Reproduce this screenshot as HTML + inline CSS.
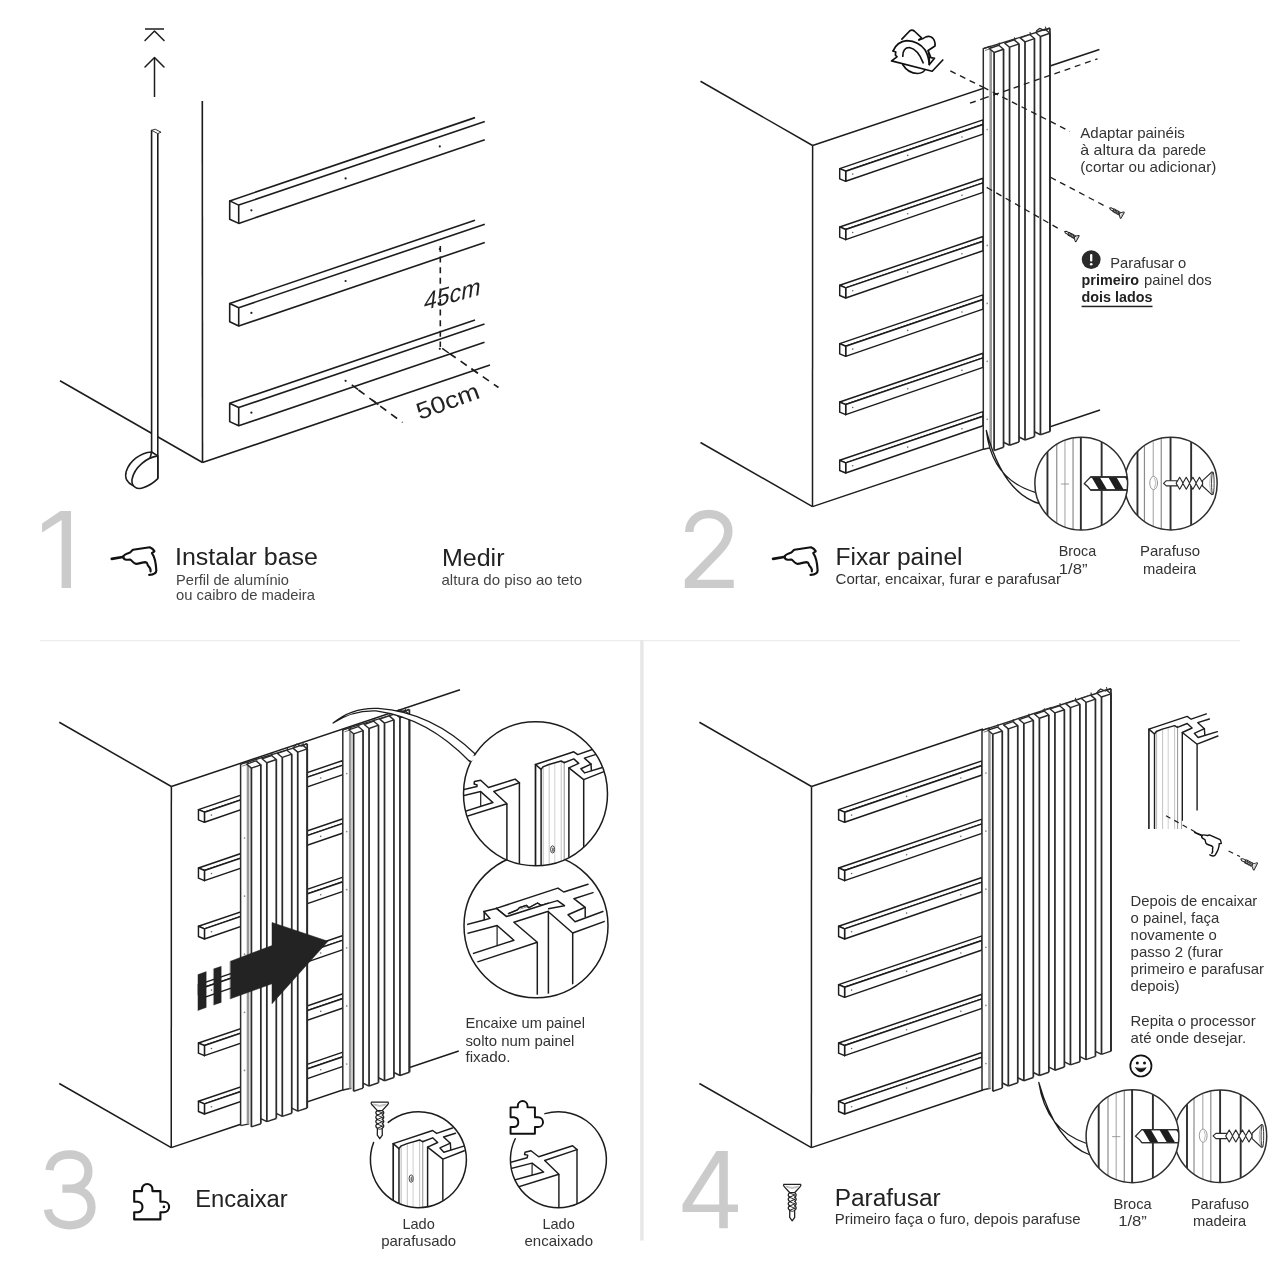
<!DOCTYPE html>
<html lang="pt">
<head>
<meta charset="utf-8">
<title>Instalação do painel ripado</title>
<style>
html,body{margin:0;padding:0;background:#fff;}
body{width:1280px;height:1280px;overflow:hidden;font-family:"Liberation Sans",sans-serif;}
svg{display:block;will-change:transform;}
svg text{font-family:"Liberation Sans",sans-serif;}
</style>
</head>
<body>
<svg width="1280" height="1280" viewBox="0 0 1280 1280">
<rect x="0" y="0" width="1280" height="1280" fill="#ffffff"/>
<line x1="145" y1="29" x2="164" y2="29" stroke="#1c1c1c" stroke-width="1.5" />
<polyline points="145,40.5 154.5,31 164,40.5" fill="none" stroke="#1c1c1c" stroke-width="1.5" stroke-linejoin="round" stroke-linecap="round" />
<polyline points="145,67 154.5,57.5 164,67" fill="none" stroke="#1c1c1c" stroke-width="1.5" stroke-linejoin="round" stroke-linecap="round" />
<line x1="154.5" y1="58" x2="154.5" y2="97" stroke="#1c1c1c" stroke-width="1.5" />
<line x1="60" y1="380.75" x2="202.5" y2="462.5" stroke="#1c1c1c" stroke-width="1.6" />
<line x1="202.3" y1="101" x2="202.5" y2="462.5" stroke="#1c1c1c" stroke-width="1.6" />
<line x1="202.5" y1="462.5" x2="490" y2="365" stroke="#1c1c1c" stroke-width="1.6" />
<polygon points="151.6,130 157.8,133 157.8,478.6 151.6,452" fill="#fff" stroke="none" stroke-width="0" stroke-linejoin="round" stroke-linecap="round" />
<line x1="151.6" y1="130.3" x2="151.6" y2="452" stroke="#1c1c1c" stroke-width="1.6" />
<line x1="157.8" y1="133.5" x2="157.8" y2="478.6" stroke="#1c1c1c" stroke-width="1.6" />
<polyline points="151.6,130.3 155.2,129.2 161,132.2 157.8,133.6 151.6,130.3" fill="#fff" stroke="#1c1c1c" stroke-width="0.9" stroke-linejoin="round" stroke-linecap="round" />
<path d="M151.6,452 C140.6,452.8 129.7,460.6 126.2,471.6 C124.2,478.6 128.1,483.3 132.8,485.4 L143,487 Z" fill="#fff" stroke="#1c1c1c" stroke-width="1.6" stroke-linejoin="round" stroke-linecap="round" />
<path d="M157.8,455.9 C146.9,457.5 134.4,466.9 132,479.4 C131.25,486.4 136.7,490.3 143.75,487.6 C150,485.2 154.7,481.7 157.8,478.6 Z" fill="#fff" stroke="#1c1c1c" stroke-width="1.6" stroke-linejoin="round" stroke-linecap="round" />
<line x1="151.6" y1="452" x2="157.8" y2="455.9" stroke="#1c1c1c" stroke-width="1.6" />
<polygon points="229.7,200.9 475,117.62 484.8,121.55 238.7,205.1" fill="#fff" stroke="none" stroke-width="0" stroke-linejoin="round" stroke-linecap="round" />
<polygon points="238.7,205.1 484.8,121.55 484.8,139.85 238.7,223.4" fill="#fff" stroke="none" stroke-width="0" stroke-linejoin="round" stroke-linecap="round" />
<line x1="229.7" y1="200.9" x2="475" y2="117.62" stroke="#1c1c1c" stroke-width="1.6" />
<line x1="238.7" y1="205.1" x2="484.8" y2="121.55" stroke="#1c1c1c" stroke-width="1.6" />
<line x1="238.7" y1="223.4" x2="484.8" y2="139.85" stroke="#1c1c1c" stroke-width="1.6" />
<polygon points="229.7,200.9 238.7,205.1 238.7,223.4 229.7,219.2" fill="#fff" stroke="#1c1c1c" stroke-width="1.6" stroke-linejoin="round" stroke-linecap="round" />
<circle cx="251.4" cy="210.3" r="1.1" fill="#222" stroke="none" stroke-width="0" />
<circle cx="345.6" cy="178.4" r="1.1" fill="#222" stroke="none" stroke-width="0" />
<circle cx="439.8" cy="146.4" r="1.1" fill="#222" stroke="none" stroke-width="0" />
<polygon points="229.7,303.5 475,220.22 484.8,224.15 238.7,307.7" fill="#fff" stroke="none" stroke-width="0" stroke-linejoin="round" stroke-linecap="round" />
<polygon points="238.7,307.7 484.8,224.15 484.8,242.45 238.7,326" fill="#fff" stroke="none" stroke-width="0" stroke-linejoin="round" stroke-linecap="round" />
<line x1="229.7" y1="303.5" x2="475" y2="220.22" stroke="#1c1c1c" stroke-width="1.6" />
<line x1="238.7" y1="307.7" x2="484.8" y2="224.15" stroke="#1c1c1c" stroke-width="1.6" />
<line x1="238.7" y1="326" x2="484.8" y2="242.45" stroke="#1c1c1c" stroke-width="1.6" />
<polygon points="229.7,303.5 238.7,307.7 238.7,326 229.7,321.8" fill="#fff" stroke="#1c1c1c" stroke-width="1.6" stroke-linejoin="round" stroke-linecap="round" />
<circle cx="251.4" cy="312.9" r="1.1" fill="#222" stroke="none" stroke-width="0" />
<circle cx="345.6" cy="281" r="1.1" fill="#222" stroke="none" stroke-width="0" />
<circle cx="439.8" cy="249" r="1.1" fill="#222" stroke="none" stroke-width="0" />
<polygon points="229.7,403.3 475,320.02 484.5,324.05 238.7,407.5" fill="#fff" stroke="none" stroke-width="0" stroke-linejoin="round" stroke-linecap="round" />
<polygon points="238.7,407.5 484.5,324.05 484.5,342.35 238.7,425.8" fill="#fff" stroke="none" stroke-width="0" stroke-linejoin="round" stroke-linecap="round" />
<line x1="229.7" y1="403.3" x2="475" y2="320.02" stroke="#1c1c1c" stroke-width="1.6" />
<line x1="238.7" y1="407.5" x2="484.5" y2="324.05" stroke="#1c1c1c" stroke-width="1.6" />
<line x1="238.7" y1="425.8" x2="484.5" y2="342.35" stroke="#1c1c1c" stroke-width="1.6" />
<polygon points="229.7,403.3 238.7,407.5 238.7,425.8 229.7,421.6" fill="#fff" stroke="#1c1c1c" stroke-width="1.6" stroke-linejoin="round" stroke-linecap="round" />
<circle cx="251.4" cy="412.7" r="1.1" fill="#222" stroke="none" stroke-width="0" />
<circle cx="345.6" cy="380.8" r="1.1" fill="#222" stroke="none" stroke-width="0" />
<circle cx="439.8" cy="348.8" r="1.1" fill="#222" stroke="none" stroke-width="0" />
<line x1="440.3" y1="246" x2="440.3" y2="347" stroke="#1c1c1c" stroke-width="1.6" stroke-dasharray="6 4.6"/>
<line x1="449.5" y1="353.5" x2="498.5" y2="387.5" stroke="#1c1c1c" stroke-width="1.6" stroke-dasharray="7.5 6"/>
<line x1="358.5" y1="390" x2="402.5" y2="422.5" stroke="#1c1c1c" stroke-width="1.6" stroke-dasharray="7.5 6"/>
<line x1="442.2" y1="348.4" x2="448.8" y2="353" stroke="#1c1c1c" stroke-width="1.5" />
<line x1="471.3" y1="368.7" x2="477.9" y2="373.3" stroke="#1c1c1c" stroke-width="1.5" />
<line x1="351.8" y1="384.9" x2="358.2" y2="389.7" stroke="#1c1c1c" stroke-width="1.5" />
<line x1="372" y1="399.9" x2="378.4" y2="404.7" stroke="#1c1c1c" stroke-width="1.5" />
<text transform="matrix(0.963 -0.27 -0.13 1.06 423.2 310.6)" font-size="24" fill="#222" textLength="58.6" lengthAdjust="spacingAndGlyphs">45cm</text>
<text transform="translate(419.7 420.0) rotate(-20)" font-size="23.5" fill="#222" textLength="65.5" lengthAdjust="spacingAndGlyphs">50cm</text>
<line x1="111.76" y1="558.84" x2="122.69" y2="556.98" stroke="#111" stroke-width="2.7" stroke-linecap="round"/>
<path d="M123.24,556.87 C123.51,554.68 125.7,553.86 130.07,552.5 C131.16,551.68 131.71,550.31 133.08,549.76 L149.75,547.3 C151.67,548.12 153.58,549.76 154.4,551.13 C154.13,552.06 152.38,552.17 151.94,553.04 C154.67,556.87 156.04,564.52 156.31,570.54 C156.31,573.55 154.13,574.64 149.21,574.91" fill="none" stroke="#111" stroke-width="2.15" stroke-linejoin="round" stroke-linecap="round" />
<path d="M123.24,556.87 C123.51,559.06 125.15,559.93 127.34,559.71 L130.34,559.6 C132.26,560.7 133.35,563.54 136.09,563.81 C139.37,563.81 142.65,562.06 145.38,562.06 C147.57,562.34 147.46,563.98 147.84,565.34 C149.21,566.71 150.96,568.35 150.57,571.36" fill="none" stroke="#111" stroke-width="2.15" stroke-linejoin="round" stroke-linecap="round" />
<line x1="700.5" y1="81.25" x2="812.6" y2="145.5" stroke="#1c1c1c" stroke-width="1.5" />
<line x1="812.6" y1="145.5" x2="812.5" y2="506.6" stroke="#1c1c1c" stroke-width="1.5" />
<line x1="812.6" y1="145.5" x2="1099.4" y2="49.42" stroke="#1c1c1c" stroke-width="1.5" />
<line x1="700.5" y1="442.5" x2="812.5" y2="506.6" stroke="#1c1c1c" stroke-width="1.5" />
<line x1="812.5" y1="506.6" x2="1100" y2="410.03" stroke="#1c1c1c" stroke-width="1.5" />
<polygon points="839.7,168.6 983,119.88 983,124.52 845.7,171.2" fill="#fff" stroke="#1c1c1c" stroke-width="1.45" stroke-linejoin="round" stroke-linecap="round" />
<polygon points="845.7,171.2 983,124.52 983,134.07 845.7,181.3" fill="#fff" stroke="#1c1c1c" stroke-width="1.45" stroke-linejoin="round" stroke-linecap="round" />
<polygon points="839.7,168.6 845.7,171.2 845.7,181.3 839.7,178.8" fill="#fff" stroke="#1c1c1c" stroke-width="1.45" stroke-linejoin="round" stroke-linecap="round" />
<circle cx="852.7" cy="174.1" r="0.8" fill="#666" stroke="none" stroke-width="0" />
<circle cx="907.7" cy="155.4" r="0.8" fill="#666" stroke="none" stroke-width="0" />
<circle cx="961.95" cy="137" r="0.8" fill="#666" stroke="none" stroke-width="0" />
<polygon points="839.7,226.94 983,178.22 983,182.86 845.7,229.54" fill="#fff" stroke="#1c1c1c" stroke-width="1.45" stroke-linejoin="round" stroke-linecap="round" />
<polygon points="845.7,229.54 983,182.86 983,192.41 845.7,239.64" fill="#fff" stroke="#1c1c1c" stroke-width="1.45" stroke-linejoin="round" stroke-linecap="round" />
<polygon points="839.7,226.94 845.7,229.54 845.7,239.64 839.7,237.14" fill="#fff" stroke="#1c1c1c" stroke-width="1.45" stroke-linejoin="round" stroke-linecap="round" />
<circle cx="852.7" cy="232.44" r="0.8" fill="#666" stroke="none" stroke-width="0" />
<circle cx="907.7" cy="213.74" r="0.8" fill="#666" stroke="none" stroke-width="0" />
<circle cx="961.95" cy="195.34" r="0.8" fill="#666" stroke="none" stroke-width="0" />
<polygon points="839.7,285.28 983,236.56 983,241.2 845.7,287.88" fill="#fff" stroke="#1c1c1c" stroke-width="1.45" stroke-linejoin="round" stroke-linecap="round" />
<polygon points="845.7,287.88 983,241.2 983,250.75 845.7,297.98" fill="#fff" stroke="#1c1c1c" stroke-width="1.45" stroke-linejoin="round" stroke-linecap="round" />
<polygon points="839.7,285.28 845.7,287.88 845.7,297.98 839.7,295.48" fill="#fff" stroke="#1c1c1c" stroke-width="1.45" stroke-linejoin="round" stroke-linecap="round" />
<circle cx="852.7" cy="290.78" r="0.8" fill="#666" stroke="none" stroke-width="0" />
<circle cx="907.7" cy="272.08" r="0.8" fill="#666" stroke="none" stroke-width="0" />
<circle cx="961.95" cy="253.68" r="0.8" fill="#666" stroke="none" stroke-width="0" />
<polygon points="839.7,343.62 983,294.9 983,299.54 845.7,346.22" fill="#fff" stroke="#1c1c1c" stroke-width="1.45" stroke-linejoin="round" stroke-linecap="round" />
<polygon points="845.7,346.22 983,299.54 983,309.09 845.7,356.32" fill="#fff" stroke="#1c1c1c" stroke-width="1.45" stroke-linejoin="round" stroke-linecap="round" />
<polygon points="839.7,343.62 845.7,346.22 845.7,356.32 839.7,353.82" fill="#fff" stroke="#1c1c1c" stroke-width="1.45" stroke-linejoin="round" stroke-linecap="round" />
<circle cx="852.7" cy="349.12" r="0.8" fill="#666" stroke="none" stroke-width="0" />
<circle cx="907.7" cy="330.42" r="0.8" fill="#666" stroke="none" stroke-width="0" />
<circle cx="961.95" cy="312.02" r="0.8" fill="#666" stroke="none" stroke-width="0" />
<polygon points="839.7,401.96 983,353.24 983,357.88 845.7,404.56" fill="#fff" stroke="#1c1c1c" stroke-width="1.45" stroke-linejoin="round" stroke-linecap="round" />
<polygon points="845.7,404.56 983,357.88 983,367.43 845.7,414.66" fill="#fff" stroke="#1c1c1c" stroke-width="1.45" stroke-linejoin="round" stroke-linecap="round" />
<polygon points="839.7,401.96 845.7,404.56 845.7,414.66 839.7,412.16" fill="#fff" stroke="#1c1c1c" stroke-width="1.45" stroke-linejoin="round" stroke-linecap="round" />
<circle cx="852.7" cy="407.46" r="0.8" fill="#666" stroke="none" stroke-width="0" />
<circle cx="907.7" cy="388.76" r="0.8" fill="#666" stroke="none" stroke-width="0" />
<circle cx="961.95" cy="370.36" r="0.8" fill="#666" stroke="none" stroke-width="0" />
<polygon points="839.7,460.3 983,411.58 983,416.22 845.7,462.9" fill="#fff" stroke="#1c1c1c" stroke-width="1.45" stroke-linejoin="round" stroke-linecap="round" />
<polygon points="845.7,462.9 983,416.22 983,425.77 845.7,473" fill="#fff" stroke="#1c1c1c" stroke-width="1.45" stroke-linejoin="round" stroke-linecap="round" />
<polygon points="839.7,460.3 845.7,462.9 845.7,473 839.7,470.5" fill="#fff" stroke="#1c1c1c" stroke-width="1.45" stroke-linejoin="round" stroke-linecap="round" />
<circle cx="852.7" cy="465.8" r="0.8" fill="#666" stroke="none" stroke-width="0" />
<circle cx="907.7" cy="447.1" r="0.8" fill="#666" stroke="none" stroke-width="0" />
<circle cx="961.95" cy="428.7" r="0.8" fill="#666" stroke="none" stroke-width="0" />
<line x1="950.3" y1="70.9" x2="983" y2="87.2" stroke="#1c1c1c" stroke-width="1.35" stroke-dasharray="6 4.8"/>
<line x1="970" y1="103.2" x2="983" y2="98.7" stroke="#1c1c1c" stroke-width="1.35" stroke-dasharray="6 4.8"/>
<polygon points="983.3,48.6 1049.9,28.25 1049.9,431.53 1040.45,434.74 1034.45,431.74 1034.45,436.78 1025,439.99 1019,436.99 1019,442.03 1009.55,445.25 1003.55,442.25 1003.55,447.29 994.1,450.5 994.1,448.3 991.9,447.5 983.3,449.2" fill="#fff" stroke="none" stroke-width="0" stroke-linejoin="round" stroke-linecap="round" />
<line x1="983.3" y1="48.6" x2="1049.9" y2="28.25" stroke="#2b2b2b" stroke-width="1.4" />
<line x1="983.3" y1="48.6" x2="983.3" y2="449.2" stroke="#2b2b2b" stroke-width="1.49" />
<line x1="983.3" y1="449.2" x2="991.9" y2="447.5" stroke="#2b2b2b" stroke-width="1.4" />
<line x1="990.7" y1="50.1" x2="990.7" y2="447.7" stroke="#989898" stroke-width="2.6" />
<polyline points="983.3,48.6 989.9,46.3 993.3,49.2" fill="none" stroke="#2b2b2b" stroke-width="1.22" stroke-linejoin="round" stroke-linecap="round" />
<polyline points="985.3,50.4 991.3,48.4 995.8,50.3" fill="none" stroke="#666" stroke-width="0.88" stroke-linejoin="round" stroke-linecap="round" />
<circle cx="987.2" cy="129.5" r="0.85" fill="#888" stroke="none" stroke-width="0" />
<circle cx="987.2" cy="187.5" r="0.85" fill="#888" stroke="none" stroke-width="0" />
<circle cx="987.2" cy="245.45" r="0.85" fill="#888" stroke="none" stroke-width="0" />
<circle cx="987.2" cy="303.4" r="0.85" fill="#888" stroke="none" stroke-width="0" />
<circle cx="987.2" cy="361.35" r="0.85" fill="#888" stroke="none" stroke-width="0" />
<circle cx="987.2" cy="419.3" r="0.85" fill="#888" stroke="none" stroke-width="0" />
<polygon points="994.1,52.5 1003.55,49.24 998.75,45.24 989.3,48.5" fill="#fff" stroke="#2b2b2b" stroke-width="1.4" stroke-linejoin="round" stroke-linecap="round" />
<line x1="994.1" y1="52.5" x2="994.1" y2="450.5" stroke="#2b2b2b" stroke-width="1.75" />
<line x1="1003.55" y1="49.24" x2="1003.55" y2="447.29" stroke="#2b2b2b" stroke-width="1.75" />
<line x1="994.1" y1="450.5" x2="1003.55" y2="447.29" stroke="#2b2b2b" stroke-width="1.49" />
<line x1="999.75" y1="45.04" x2="998.95" y2="42.64" stroke="#2b2b2b" stroke-width="1.05" />
<polygon points="1009.55,47.17 1019,43.91 1014.2,39.91 1004.75,43.17" fill="#fff" stroke="#2b2b2b" stroke-width="1.4" stroke-linejoin="round" stroke-linecap="round" />
<line x1="1009.55" y1="47.17" x2="1009.55" y2="445.25" stroke="#2b2b2b" stroke-width="1.75" />
<line x1="1019" y1="43.91" x2="1019" y2="442.03" stroke="#2b2b2b" stroke-width="1.75" />
<line x1="1009.55" y1="445.25" x2="1019" y2="442.03" stroke="#2b2b2b" stroke-width="1.49" />
<line x1="1003.55" y1="442.25" x2="1009.55" y2="445.25" stroke="#2b2b2b" stroke-width="1.49" />
<line x1="1015.2" y1="39.71" x2="1014.4" y2="37.31" stroke="#2b2b2b" stroke-width="1.05" />
<polygon points="1025,41.84 1034.45,38.58 1029.65,34.58 1020.2,37.84" fill="#fff" stroke="#2b2b2b" stroke-width="1.4" stroke-linejoin="round" stroke-linecap="round" />
<line x1="1025" y1="41.84" x2="1025" y2="439.99" stroke="#2b2b2b" stroke-width="1.75" />
<line x1="1034.45" y1="38.58" x2="1034.45" y2="436.78" stroke="#2b2b2b" stroke-width="1.75" />
<line x1="1025" y1="439.99" x2="1034.45" y2="436.78" stroke="#2b2b2b" stroke-width="1.49" />
<line x1="1019" y1="436.99" x2="1025" y2="439.99" stroke="#2b2b2b" stroke-width="1.49" />
<line x1="1030.65" y1="34.38" x2="1029.85" y2="31.98" stroke="#2b2b2b" stroke-width="1.05" />
<polygon points="1040.45,36.51 1049.9,33.25 1045.1,29.25 1035.65,32.51" fill="#fff" stroke="#2b2b2b" stroke-width="1.4" stroke-linejoin="round" stroke-linecap="round" />
<line x1="1040.45" y1="36.51" x2="1040.45" y2="434.74" stroke="#2b2b2b" stroke-width="1.75" />
<line x1="1049.9" y1="33.25" x2="1049.9" y2="431.53" stroke="#2b2b2b" stroke-width="1.75" />
<line x1="1040.45" y1="434.74" x2="1049.9" y2="431.53" stroke="#2b2b2b" stroke-width="1.49" />
<line x1="1034.45" y1="431.74" x2="1040.45" y2="434.74" stroke="#2b2b2b" stroke-width="1.49" />
<line x1="1046.1" y1="29.05" x2="1045.3" y2="26.65" stroke="#2b2b2b" stroke-width="1.05" />
<line x1="1049.9" y1="28.25" x2="1049.9" y2="431.53" stroke="#2b2b2b" stroke-width="1.75" />
<polyline points="1036.6,30.85 1039.6,28.45 1044.3,30.45 1049.2,28.05" fill="none" stroke="#2b2b2b" stroke-width="1.31" stroke-linejoin="round" stroke-linecap="round" />
<line x1="983" y1="87.2" x2="1070" y2="131.4" stroke="#1c1c1c" stroke-width="1.3" stroke-dasharray="6 4.8"/>
<line x1="983" y1="98.7" x2="1097.5" y2="58.8" stroke="#1c1c1c" stroke-width="1.3" stroke-dasharray="6 4.8"/>
<line x1="986.9" y1="187.5" x2="1060" y2="229.4" stroke="#1c1c1c" stroke-width="1.3" stroke-dasharray="6 4.8"/>
<line x1="1050.5" y1="177.3" x2="1104.5" y2="205.8" stroke="#1c1c1c" stroke-width="1.3" stroke-dasharray="6 4.8"/>
<g transform="translate(1122.6 215.4) rotate(119.6) scale(0.41)">
<path d="M-8.3,0 L8.3,0 Q9.2,1 8,2.3 L2.4,8.4 L-2.4,8.4 L-8,2.3 Q-9.2,1 -8.3,0 Z" fill="#fff" stroke="#222" stroke-width="2.32" stroke-linejoin="round" stroke-linecap="round" />
<path d="M-6.3,2 Q0,4.6 6.3,2" fill="none" stroke="#888" stroke-width="1.04" stroke-linejoin="round" stroke-linecap="round" />
<path d="M-5,3.2 Q0,5.4 5,3.2" fill="none" stroke="#999" stroke-width="1.04" stroke-linejoin="round" stroke-linecap="round" />
<path d="M-2.4,8.4 Q-5.6,10.6 -2.4,12.8 Q-5.6,15 -2.4,17.2 Q-5.6,19.4 -2.4,21.6 Q-5.6,23.8 -2.4,26 L-2.5,33 L0,36.5 L2.5,33 L2.4,26 Q5.6,23.8 2.4,21.6 Q5.6,19.4 2.4,17.2 Q5.6,15 2.4,12.8 Q5.6,10.6 2.4,8.4 Z" fill="#fff" stroke="#222" stroke-width="2.32" stroke-linejoin="round" stroke-linecap="round" />
<path d="M-2.6,13 L2.6,10.6" fill="none" stroke="#222" stroke-width="1.85" stroke-linejoin="round" stroke-linecap="round" />
<path d="M-2.6,8.6 L2.6,10.8" fill="none" stroke="#222" stroke-width="1.62" stroke-linejoin="round" stroke-linecap="round" />
<path d="M-2.6,17.4 L2.6,15" fill="none" stroke="#222" stroke-width="1.85" stroke-linejoin="round" stroke-linecap="round" />
<path d="M-2.6,13 L2.6,15.2" fill="none" stroke="#222" stroke-width="1.62" stroke-linejoin="round" stroke-linecap="round" />
<path d="M-2.6,21.8 L2.6,19.4" fill="none" stroke="#222" stroke-width="1.85" stroke-linejoin="round" stroke-linecap="round" />
<path d="M-2.6,17.4 L2.6,19.6" fill="none" stroke="#222" stroke-width="1.62" stroke-linejoin="round" stroke-linecap="round" />
<path d="M-2.6,26.2 L2.6,23.8" fill="none" stroke="#222" stroke-width="1.85" stroke-linejoin="round" stroke-linecap="round" />
<path d="M-2.6,21.8 L2.6,24" fill="none" stroke="#222" stroke-width="1.62" stroke-linejoin="round" stroke-linecap="round" />
<path d="M-2.5,26.4 Q0,28 2.5,26.4" fill="none" stroke="#222" stroke-width="1.62" stroke-linejoin="round" stroke-linecap="round" />
</g>
<g transform="translate(1077.6 238.8) rotate(119.6) scale(0.41)">
<path d="M-8.3,0 L8.3,0 Q9.2,1 8,2.3 L2.4,8.4 L-2.4,8.4 L-8,2.3 Q-9.2,1 -8.3,0 Z" fill="#fff" stroke="#222" stroke-width="2.32" stroke-linejoin="round" stroke-linecap="round" />
<path d="M-6.3,2 Q0,4.6 6.3,2" fill="none" stroke="#888" stroke-width="1.04" stroke-linejoin="round" stroke-linecap="round" />
<path d="M-5,3.2 Q0,5.4 5,3.2" fill="none" stroke="#999" stroke-width="1.04" stroke-linejoin="round" stroke-linecap="round" />
<path d="M-2.4,8.4 Q-5.6,10.6 -2.4,12.8 Q-5.6,15 -2.4,17.2 Q-5.6,19.4 -2.4,21.6 Q-5.6,23.8 -2.4,26 L-2.5,33 L0,36.5 L2.5,33 L2.4,26 Q5.6,23.8 2.4,21.6 Q5.6,19.4 2.4,17.2 Q5.6,15 2.4,12.8 Q5.6,10.6 2.4,8.4 Z" fill="#fff" stroke="#222" stroke-width="2.32" stroke-linejoin="round" stroke-linecap="round" />
<path d="M-2.6,13 L2.6,10.6" fill="none" stroke="#222" stroke-width="1.85" stroke-linejoin="round" stroke-linecap="round" />
<path d="M-2.6,8.6 L2.6,10.8" fill="none" stroke="#222" stroke-width="1.62" stroke-linejoin="round" stroke-linecap="round" />
<path d="M-2.6,17.4 L2.6,15" fill="none" stroke="#222" stroke-width="1.85" stroke-linejoin="round" stroke-linecap="round" />
<path d="M-2.6,13 L2.6,15.2" fill="none" stroke="#222" stroke-width="1.62" stroke-linejoin="round" stroke-linecap="round" />
<path d="M-2.6,21.8 L2.6,19.4" fill="none" stroke="#222" stroke-width="1.85" stroke-linejoin="round" stroke-linecap="round" />
<path d="M-2.6,17.4 L2.6,19.6" fill="none" stroke="#222" stroke-width="1.62" stroke-linejoin="round" stroke-linecap="round" />
<path d="M-2.6,26.2 L2.6,23.8" fill="none" stroke="#222" stroke-width="1.85" stroke-linejoin="round" stroke-linecap="round" />
<path d="M-2.6,21.8 L2.6,24" fill="none" stroke="#222" stroke-width="1.62" stroke-linejoin="round" stroke-linecap="round" />
<path d="M-2.5,26.4 Q0,28 2.5,26.4" fill="none" stroke="#222" stroke-width="1.62" stroke-linejoin="round" stroke-linecap="round" />
</g>
<path d="M901.88,39.06 L909.88,30.75 Q912.19,29.25 914.5,31.25 L921.56,37.81 L918.88,39.88" fill="none" stroke="#111" stroke-width="1.7" stroke-linejoin="round" stroke-linecap="round" />
<path d="M918.88,39.88 Q923.75,38.75 925.62,37 Q929.69,35.5 932.62,38 Q935.5,40.94 935,45.94 L928.12,50.44 L930.94,57.69 L934.5,58.25 L929.38,64.5" fill="none" stroke="#111" stroke-width="1.7" stroke-linejoin="round" stroke-linecap="round" />
<path d="M893.12,50.94 Q896.88,41.56 906.88,40.62 Q918.75,41.12 925.12,50 Q928.88,56.56 929.25,64.5" fill="none" stroke="#111" stroke-width="1.7" stroke-linejoin="round" stroke-linecap="round" />
<path d="M893.12,50.94 L895.75,52 L895.38,55 L897,56.88 L891.56,60.94 L932.19,71.25 L942.81,60" fill="none" stroke="#111" stroke-width="1.7" stroke-linejoin="round" stroke-linecap="round" />
<path d="M902.81,56.25 Q902.81,47.5 909.38,47.5 Q918.12,49.38 923.12,62.81" fill="none" stroke="#111" stroke-width="1.7" stroke-linejoin="round" stroke-linecap="round" />
<path d="M928.12,50.62 Q930,57.5 929.38,64.5" fill="none" stroke="#111" stroke-width="1.36" stroke-linejoin="round" stroke-linecap="round" />
<path d="M902.81,64.69 Q908.12,73.25 917.5,73.5 Q923.25,73.12 924.75,70" fill="none" stroke="#111" stroke-width="1.7" stroke-linejoin="round" stroke-linecap="round" />
<circle cx="1091.2" cy="259.6" r="9.4" fill="#2a2a2a" stroke="none" stroke-width="0" />
<rect x="1090.05" y="254" width="2.3" height="7.6" rx="1" fill="#fff"/>
<circle cx="1091.2" cy="264.2" r="1.3" fill="#fff" stroke="none" stroke-width="0" />
<path d="M986.3,430.5 Q992,480 1035.8,492.6 L1041.2,504.2 Q1003,494 986.3,430.5 Z" fill="#fff" stroke="#1c1c1c" stroke-width="1.3" stroke-linejoin="round" stroke-linecap="round" />
<clipPath id="cp1081a"><circle cx="1081.25" cy="483.6" r="46.4"/></clipPath>
<clipPath id="cp1081b"><circle cx="1170.85" cy="483.6" r="46.3"/></clipPath>
<circle cx="1170.85" cy="483.6" r="46.3" fill="#fff" stroke="none" stroke-width="0" />
<g clip-path="url(#cp1081b)">
<line x1="1137.45" y1="437.3" x2="1137.45" y2="529.9" stroke="#2e2e2e" stroke-width="1.9" />
<line x1="1144.45" y1="437.3" x2="1144.45" y2="529.9" stroke="#8c8c8c" stroke-width="1.2" />
<line x1="1153.25" y1="437.3" x2="1153.25" y2="529.9" stroke="#b0b0b0" stroke-width="1.2" />
<line x1="1161.25" y1="437.3" x2="1161.25" y2="529.9" stroke="#8c8c8c" stroke-width="1.2" />
<line x1="1170.55" y1="437.3" x2="1170.55" y2="529.9" stroke="#2e2e2e" stroke-width="1.9" />
<line x1="1191.15" y1="437.3" x2="1191.15" y2="529.9" stroke="#2e2e2e" stroke-width="1.9" />
<ellipse cx="1153.65" cy="483" rx="3.9" ry="6.6" fill="#fff" stroke="#999" stroke-width="1"/>
<path d="M1154.45,477.8 Q1157.25,483 1154.45,488.2" fill="none" stroke="#aaa" stroke-width="0.8"/>
<path d="M1163.55,483.3 L1166.35,480.7 L1177.05,480.7 L1177.05,485.9 L1166.35,485.9 Z" fill="#fff" stroke="#2a2a2a" stroke-width="1.15" stroke-linejoin="round" stroke-linecap="round" />
<polygon points="1176.15,483.3 1179.65,477.3 1183.15,483.3 1179.65,489.3" fill="#fff" stroke="#2a2a2a" stroke-width="1.15" stroke-linejoin="round" stroke-linecap="round" />
<polygon points="1182.75,483.3 1186.25,477.3 1189.75,483.3 1186.25,489.3" fill="#fff" stroke="#2a2a2a" stroke-width="1.15" stroke-linejoin="round" stroke-linecap="round" />
<polygon points="1189.35,483.3 1192.85,477.3 1196.35,483.3 1192.85,489.3" fill="#fff" stroke="#2a2a2a" stroke-width="1.15" stroke-linejoin="round" stroke-linecap="round" />
<polygon points="1195.95,483.3 1199.45,477.3 1202.95,483.3 1199.45,489.3" fill="#fff" stroke="#2a2a2a" stroke-width="1.15" stroke-linejoin="round" stroke-linecap="round" />
<polygon points="1202.55,480.6 1211.85,472 1213.05,472.3 1213.05,494.3 1211.85,494.6 1202.55,486" fill="#fff" stroke="#2a2a2a" stroke-width="1.15" stroke-linejoin="round" stroke-linecap="round" />
<path d="M1211.55,472.8 Q1207.65,483.3 1211.55,493.8" fill="none" stroke="#888" stroke-width="0.6" stroke-linejoin="round" stroke-linecap="round" />
<ellipse cx="1212.85" cy="483.3" rx="1.3" ry="11.2" fill="#fff" stroke="#2a2a2a" stroke-width="0.9"/>
</g>
<circle cx="1170.85" cy="483.6" r="46.3" fill="none" stroke="#2e2e2e" stroke-width="1.5" />
<circle cx="1081.25" cy="483.6" r="46.4" fill="#fff" stroke="none" stroke-width="0" />
<g clip-path="url(#cp1081a)">
<line x1="1047.45" y1="437.2" x2="1047.45" y2="530" stroke="#2e2e2e" stroke-width="1.9" />
<line x1="1056.75" y1="437.2" x2="1056.75" y2="530" stroke="#8c8c8c" stroke-width="1.2" />
<line x1="1064.95" y1="437.2" x2="1064.95" y2="530" stroke="#b0b0b0" stroke-width="1.2" />
<line x1="1073.05" y1="437.2" x2="1073.05" y2="530" stroke="#8c8c8c" stroke-width="1.2" />
<line x1="1080.85" y1="437.2" x2="1080.85" y2="530" stroke="#2e2e2e" stroke-width="1.9" />
<line x1="1101.65" y1="437.2" x2="1101.65" y2="530" stroke="#2e2e2e" stroke-width="1.9" />
<line x1="1060.85" y1="484" x2="1069.05" y2="484" stroke="#888" stroke-width="0.8" />
<clipPath id="cp1081bit"><rect x="1090.55" y="477" width="39.1" height="13"/></clipPath>
<path d="M1084.25,483.6 L1090.55,477 L1129.65,477 L1129.65,490 L1090.55,490 Q1089.05,487.1 1084.25,483.6 Z" fill="#fff" stroke="#2e2e2e" stroke-width="1.3" stroke-linejoin="round" stroke-linecap="round" />
<g clip-path="url(#cp1081bit)">
<polygon points="1091.15,476.5 1099.35,476.5 1107.55,490.5 1099.35,490.5" fill="#1e1e1e" stroke="none" stroke-width="0" stroke-linejoin="round" stroke-linecap="round" />
<polygon points="1107.85,476.5 1116.05,476.5 1124.25,490.5 1116.05,490.5" fill="#1e1e1e" stroke="none" stroke-width="0" stroke-linejoin="round" stroke-linecap="round" />
<polygon points="1124.55,476.5 1132.75,476.5 1140.95,490.5 1132.75,490.5" fill="#1e1e1e" stroke="none" stroke-width="0" stroke-linejoin="round" stroke-linecap="round" />
<polygon points="1141.25,476.5 1149.45,476.5 1157.65,490.5 1149.45,490.5" fill="#1e1e1e" stroke="none" stroke-width="0" stroke-linejoin="round" stroke-linecap="round" />
</g>
<line x1="1090.55" y1="477" x2="1129.65" y2="477" stroke="#2e2e2e" stroke-width="1.3" />
<line x1="1090.55" y1="490" x2="1129.65" y2="490" stroke="#2e2e2e" stroke-width="1.3" />
</g>
<circle cx="1081.25" cy="483.6" r="46.4" fill="none" stroke="#2e2e2e" stroke-width="1.5" />
<line x1="773.06" y1="558.84" x2="783.99" y2="556.98" stroke="#111" stroke-width="2.7" stroke-linecap="round"/>
<path d="M784.54,556.87 C784.81,554.68 787,553.86 791.37,552.5 C792.46,551.68 793.01,550.31 794.38,549.76 L811.05,547.3 C812.97,548.12 814.88,549.76 815.7,551.13 C815.43,552.06 813.68,552.17 813.24,553.04 C815.97,556.87 817.34,564.52 817.61,570.54 C817.61,573.55 815.43,574.64 810.51,574.91" fill="none" stroke="#111" stroke-width="2.15" stroke-linejoin="round" stroke-linecap="round" />
<path d="M784.54,556.87 C784.81,559.06 786.45,559.93 788.64,559.71 L791.64,559.6 C793.56,560.7 794.65,563.54 797.39,563.81 C800.67,563.81 803.95,562.06 806.68,562.06 C808.87,562.34 808.76,563.98 809.14,565.34 C810.51,566.71 812.26,568.35 811.87,571.36" fill="none" stroke="#111" stroke-width="2.15" stroke-linejoin="round" stroke-linecap="round" />
<line x1="59.25" y1="722.25" x2="171.35" y2="786.5" stroke="#1c1c1c" stroke-width="1.5" />
<line x1="171.35" y1="786.5" x2="171.25" y2="1147.6" stroke="#1c1c1c" stroke-width="1.5" />
<line x1="171.35" y1="786.5" x2="460" y2="689.8" stroke="#1c1c1c" stroke-width="1.5" />
<line x1="59.25" y1="1083.5" x2="171.25" y2="1147.6" stroke="#1c1c1c" stroke-width="1.5" />
<line x1="171.25" y1="1147.6" x2="458.75" y2="1051.03" stroke="#1c1c1c" stroke-width="1.5" />
<polygon points="198.45,809.6 343,760.45 343,765.09 204.45,812.2" fill="#fff" stroke="#1c1c1c" stroke-width="1.45" stroke-linejoin="round" stroke-linecap="round" />
<polygon points="204.45,812.2 343,765.09 343,774.64 204.45,822.3" fill="#fff" stroke="#1c1c1c" stroke-width="1.45" stroke-linejoin="round" stroke-linecap="round" />
<polygon points="198.45,809.6 204.45,812.2 204.45,822.3 198.45,819.8" fill="#fff" stroke="#1c1c1c" stroke-width="1.45" stroke-linejoin="round" stroke-linecap="round" />
<circle cx="211.45" cy="815.1" r="0.8" fill="#666" stroke="none" stroke-width="0" />
<circle cx="266.45" cy="796.4" r="0.8" fill="#666" stroke="none" stroke-width="0" />
<circle cx="320.7" cy="778" r="0.8" fill="#666" stroke="none" stroke-width="0" />
<polygon points="198.45,867.94 343,818.79 343,823.43 204.45,870.54" fill="#fff" stroke="#1c1c1c" stroke-width="1.45" stroke-linejoin="round" stroke-linecap="round" />
<polygon points="204.45,870.54 343,823.43 343,832.98 204.45,880.64" fill="#fff" stroke="#1c1c1c" stroke-width="1.45" stroke-linejoin="round" stroke-linecap="round" />
<polygon points="198.45,867.94 204.45,870.54 204.45,880.64 198.45,878.14" fill="#fff" stroke="#1c1c1c" stroke-width="1.45" stroke-linejoin="round" stroke-linecap="round" />
<circle cx="211.45" cy="873.44" r="0.8" fill="#666" stroke="none" stroke-width="0" />
<circle cx="266.45" cy="854.74" r="0.8" fill="#666" stroke="none" stroke-width="0" />
<circle cx="320.7" cy="836.34" r="0.8" fill="#666" stroke="none" stroke-width="0" />
<polygon points="198.45,926.28 343,877.13 343,881.77 204.45,928.88" fill="#fff" stroke="#1c1c1c" stroke-width="1.45" stroke-linejoin="round" stroke-linecap="round" />
<polygon points="204.45,928.88 343,881.77 343,891.32 204.45,938.98" fill="#fff" stroke="#1c1c1c" stroke-width="1.45" stroke-linejoin="round" stroke-linecap="round" />
<polygon points="198.45,926.28 204.45,928.88 204.45,938.98 198.45,936.48" fill="#fff" stroke="#1c1c1c" stroke-width="1.45" stroke-linejoin="round" stroke-linecap="round" />
<circle cx="211.45" cy="931.78" r="0.8" fill="#666" stroke="none" stroke-width="0" />
<circle cx="266.45" cy="913.08" r="0.8" fill="#666" stroke="none" stroke-width="0" />
<circle cx="320.7" cy="894.68" r="0.8" fill="#666" stroke="none" stroke-width="0" />
<polygon points="198.45,984.62 343,935.47 343,940.11 204.45,987.22" fill="#fff" stroke="#1c1c1c" stroke-width="1.45" stroke-linejoin="round" stroke-linecap="round" />
<polygon points="204.45,987.22 343,940.11 343,949.66 204.45,997.32" fill="#fff" stroke="#1c1c1c" stroke-width="1.45" stroke-linejoin="round" stroke-linecap="round" />
<polygon points="198.45,984.62 204.45,987.22 204.45,997.32 198.45,994.82" fill="#fff" stroke="#1c1c1c" stroke-width="1.45" stroke-linejoin="round" stroke-linecap="round" />
<circle cx="211.45" cy="990.12" r="0.8" fill="#666" stroke="none" stroke-width="0" />
<circle cx="266.45" cy="971.42" r="0.8" fill="#666" stroke="none" stroke-width="0" />
<circle cx="320.7" cy="953.02" r="0.8" fill="#666" stroke="none" stroke-width="0" />
<polygon points="198.45,1042.96 343,993.81 343,998.45 204.45,1045.56" fill="#fff" stroke="#1c1c1c" stroke-width="1.45" stroke-linejoin="round" stroke-linecap="round" />
<polygon points="204.45,1045.56 343,998.45 343,1008 204.45,1055.66" fill="#fff" stroke="#1c1c1c" stroke-width="1.45" stroke-linejoin="round" stroke-linecap="round" />
<polygon points="198.45,1042.96 204.45,1045.56 204.45,1055.66 198.45,1053.16" fill="#fff" stroke="#1c1c1c" stroke-width="1.45" stroke-linejoin="round" stroke-linecap="round" />
<circle cx="211.45" cy="1048.46" r="0.8" fill="#666" stroke="none" stroke-width="0" />
<circle cx="266.45" cy="1029.76" r="0.8" fill="#666" stroke="none" stroke-width="0" />
<circle cx="320.7" cy="1011.36" r="0.8" fill="#666" stroke="none" stroke-width="0" />
<polygon points="198.45,1101.3 343,1052.15 343,1056.79 204.45,1103.9" fill="#fff" stroke="#1c1c1c" stroke-width="1.45" stroke-linejoin="round" stroke-linecap="round" />
<polygon points="204.45,1103.9 343,1056.79 343,1066.34 204.45,1114" fill="#fff" stroke="#1c1c1c" stroke-width="1.45" stroke-linejoin="round" stroke-linecap="round" />
<polygon points="198.45,1101.3 204.45,1103.9 204.45,1114 198.45,1111.5" fill="#fff" stroke="#1c1c1c" stroke-width="1.45" stroke-linejoin="round" stroke-linecap="round" />
<circle cx="211.45" cy="1106.8" r="0.8" fill="#666" stroke="none" stroke-width="0" />
<circle cx="266.45" cy="1088.1" r="0.8" fill="#666" stroke="none" stroke-width="0" />
<circle cx="320.7" cy="1069.7" r="0.8" fill="#666" stroke="none" stroke-width="0" />
<polygon points="342.8,729.9 409.4,709.55 409.4,1072.33 399.95,1075.54 393.95,1072.54 393.95,1077.58 384.5,1080.79 378.5,1077.79 378.5,1082.83 369.05,1086.05 363.05,1083.05 363.05,1088.09 353.6,1091.3 353.6,1089.1 351.4,1088.3 342.8,1090" fill="#fff" stroke="none" stroke-width="0" stroke-linejoin="round" stroke-linecap="round" />
<line x1="342.8" y1="729.9" x2="409.4" y2="709.55" stroke="#2b2b2b" stroke-width="1.4" />
<line x1="342.8" y1="729.9" x2="342.8" y2="1090" stroke="#2b2b2b" stroke-width="1.49" />
<line x1="342.8" y1="1090" x2="351.4" y2="1088.3" stroke="#2b2b2b" stroke-width="1.4" />
<line x1="350.2" y1="731.4" x2="350.2" y2="1088.5" stroke="#989898" stroke-width="2.6" />
<polyline points="342.8,729.9 349.4,727.6 352.8,730.5" fill="none" stroke="#2b2b2b" stroke-width="1.22" stroke-linejoin="round" stroke-linecap="round" />
<polyline points="344.8,731.7 350.8,729.7 355.3,731.6" fill="none" stroke="#666" stroke-width="0.88" stroke-linejoin="round" stroke-linecap="round" />
<circle cx="346.7" cy="773.5" r="0.85" fill="#888" stroke="none" stroke-width="0" />
<circle cx="346.7" cy="831.6" r="0.85" fill="#888" stroke="none" stroke-width="0" />
<circle cx="346.7" cy="889.7" r="0.85" fill="#888" stroke="none" stroke-width="0" />
<circle cx="346.7" cy="947.8" r="0.85" fill="#888" stroke="none" stroke-width="0" />
<circle cx="346.7" cy="1005.9" r="0.85" fill="#888" stroke="none" stroke-width="0" />
<circle cx="346.7" cy="1064" r="0.85" fill="#888" stroke="none" stroke-width="0" />
<polygon points="353.6,733.8 363.05,730.54 358.25,726.54 348.8,729.8" fill="#fff" stroke="#2b2b2b" stroke-width="1.4" stroke-linejoin="round" stroke-linecap="round" />
<line x1="353.6" y1="733.8" x2="353.6" y2="1091.3" stroke="#2b2b2b" stroke-width="1.75" />
<line x1="363.05" y1="730.54" x2="363.05" y2="1088.09" stroke="#2b2b2b" stroke-width="1.75" />
<line x1="353.6" y1="1091.3" x2="363.05" y2="1088.09" stroke="#2b2b2b" stroke-width="1.49" />
<line x1="359.25" y1="726.34" x2="358.45" y2="723.94" stroke="#2b2b2b" stroke-width="1.05" />
<polygon points="369.05,728.47 378.5,725.21 373.7,721.21 364.25,724.47" fill="#fff" stroke="#2b2b2b" stroke-width="1.4" stroke-linejoin="round" stroke-linecap="round" />
<line x1="369.05" y1="728.47" x2="369.05" y2="1086.05" stroke="#2b2b2b" stroke-width="1.75" />
<line x1="378.5" y1="725.21" x2="378.5" y2="1082.83" stroke="#2b2b2b" stroke-width="1.75" />
<line x1="369.05" y1="1086.05" x2="378.5" y2="1082.83" stroke="#2b2b2b" stroke-width="1.49" />
<line x1="363.05" y1="1083.05" x2="369.05" y2="1086.05" stroke="#2b2b2b" stroke-width="1.49" />
<line x1="374.7" y1="721.01" x2="373.9" y2="718.61" stroke="#2b2b2b" stroke-width="1.05" />
<polygon points="384.5,723.14 393.95,719.88 389.15,715.88 379.7,719.14" fill="#fff" stroke="#2b2b2b" stroke-width="1.4" stroke-linejoin="round" stroke-linecap="round" />
<line x1="384.5" y1="723.14" x2="384.5" y2="1080.79" stroke="#2b2b2b" stroke-width="1.75" />
<line x1="393.95" y1="719.88" x2="393.95" y2="1077.58" stroke="#2b2b2b" stroke-width="1.75" />
<line x1="384.5" y1="1080.79" x2="393.95" y2="1077.58" stroke="#2b2b2b" stroke-width="1.49" />
<line x1="378.5" y1="1077.79" x2="384.5" y2="1080.79" stroke="#2b2b2b" stroke-width="1.49" />
<line x1="390.15" y1="715.68" x2="389.35" y2="713.28" stroke="#2b2b2b" stroke-width="1.05" />
<polygon points="399.95,717.81 409.4,714.55 404.6,710.55 395.15,713.81" fill="#fff" stroke="#2b2b2b" stroke-width="1.4" stroke-linejoin="round" stroke-linecap="round" />
<line x1="399.95" y1="717.81" x2="399.95" y2="1075.54" stroke="#2b2b2b" stroke-width="1.75" />
<line x1="409.4" y1="714.55" x2="409.4" y2="1072.33" stroke="#2b2b2b" stroke-width="1.75" />
<line x1="399.95" y1="1075.54" x2="409.4" y2="1072.33" stroke="#2b2b2b" stroke-width="1.49" />
<line x1="393.95" y1="1072.54" x2="399.95" y2="1075.54" stroke="#2b2b2b" stroke-width="1.49" />
<line x1="405.6" y1="710.35" x2="404.8" y2="707.95" stroke="#2b2b2b" stroke-width="1.05" />
<line x1="409.4" y1="709.55" x2="409.4" y2="1072.33" stroke="#2b2b2b" stroke-width="1.75" />
<polyline points="396.1,712.15 399.1,709.75 403.8,711.75 408.7,709.35" fill="none" stroke="#2b2b2b" stroke-width="1.31" stroke-linejoin="round" stroke-linecap="round" />
<polygon points="240.6,764.2 307.2,743.85 307.2,1107.93 297.75,1111.14 291.75,1108.14 291.75,1113.18 282.3,1116.39 276.3,1113.39 276.3,1118.43 266.85,1121.65 260.85,1118.65 260.85,1123.69 251.4,1126.9 251.4,1124.7 249.2,1123.9 240.6,1125.6" fill="#fff" stroke="none" stroke-width="0" stroke-linejoin="round" stroke-linecap="round" />
<line x1="240.6" y1="764.2" x2="307.2" y2="743.85" stroke="#2b2b2b" stroke-width="1.4" />
<line x1="240.6" y1="764.2" x2="240.6" y2="1125.6" stroke="#2b2b2b" stroke-width="1.49" />
<line x1="240.6" y1="1125.6" x2="249.2" y2="1123.9" stroke="#2b2b2b" stroke-width="1.4" />
<line x1="248" y1="765.7" x2="248" y2="1124.1" stroke="#989898" stroke-width="2.6" />
<polyline points="240.6,764.2 247.2,761.9 250.6,764.8" fill="none" stroke="#2b2b2b" stroke-width="1.22" stroke-linejoin="round" stroke-linecap="round" />
<polyline points="242.6,766 248.6,764 253.1,765.9" fill="none" stroke="#666" stroke-width="0.88" stroke-linejoin="round" stroke-linecap="round" />
<circle cx="244.5" cy="838" r="0.85" fill="#888" stroke="none" stroke-width="0" />
<circle cx="244.5" cy="896.1" r="0.85" fill="#888" stroke="none" stroke-width="0" />
<circle cx="244.5" cy="954.2" r="0.85" fill="#888" stroke="none" stroke-width="0" />
<circle cx="244.5" cy="1012.3" r="0.85" fill="#888" stroke="none" stroke-width="0" />
<circle cx="244.5" cy="1070.4" r="0.85" fill="#888" stroke="none" stroke-width="0" />
<polygon points="251.4,768.1 260.85,764.84 256.05,760.84 246.6,764.1" fill="#fff" stroke="#2b2b2b" stroke-width="1.4" stroke-linejoin="round" stroke-linecap="round" />
<line x1="251.4" y1="768.1" x2="251.4" y2="1126.9" stroke="#2b2b2b" stroke-width="1.75" />
<line x1="260.85" y1="764.84" x2="260.85" y2="1123.69" stroke="#2b2b2b" stroke-width="1.75" />
<line x1="251.4" y1="1126.9" x2="260.85" y2="1123.69" stroke="#2b2b2b" stroke-width="1.49" />
<line x1="257.05" y1="760.64" x2="256.25" y2="758.24" stroke="#2b2b2b" stroke-width="1.05" />
<polygon points="266.85,762.77 276.3,759.51 271.5,755.51 262.05,758.77" fill="#fff" stroke="#2b2b2b" stroke-width="1.4" stroke-linejoin="round" stroke-linecap="round" />
<line x1="266.85" y1="762.77" x2="266.85" y2="1121.65" stroke="#2b2b2b" stroke-width="1.75" />
<line x1="276.3" y1="759.51" x2="276.3" y2="1118.43" stroke="#2b2b2b" stroke-width="1.75" />
<line x1="266.85" y1="1121.65" x2="276.3" y2="1118.43" stroke="#2b2b2b" stroke-width="1.49" />
<line x1="260.85" y1="1118.65" x2="266.85" y2="1121.65" stroke="#2b2b2b" stroke-width="1.49" />
<line x1="272.5" y1="755.31" x2="271.7" y2="752.91" stroke="#2b2b2b" stroke-width="1.05" />
<polygon points="282.3,757.44 291.75,754.18 286.95,750.18 277.5,753.44" fill="#fff" stroke="#2b2b2b" stroke-width="1.4" stroke-linejoin="round" stroke-linecap="round" />
<line x1="282.3" y1="757.44" x2="282.3" y2="1116.39" stroke="#2b2b2b" stroke-width="1.75" />
<line x1="291.75" y1="754.18" x2="291.75" y2="1113.18" stroke="#2b2b2b" stroke-width="1.75" />
<line x1="282.3" y1="1116.39" x2="291.75" y2="1113.18" stroke="#2b2b2b" stroke-width="1.49" />
<line x1="276.3" y1="1113.39" x2="282.3" y2="1116.39" stroke="#2b2b2b" stroke-width="1.49" />
<line x1="287.95" y1="749.98" x2="287.15" y2="747.58" stroke="#2b2b2b" stroke-width="1.05" />
<polygon points="297.75,752.11 307.2,748.85 302.4,744.85 292.95,748.11" fill="#fff" stroke="#2b2b2b" stroke-width="1.4" stroke-linejoin="round" stroke-linecap="round" />
<line x1="297.75" y1="752.11" x2="297.75" y2="1111.14" stroke="#2b2b2b" stroke-width="1.75" />
<line x1="307.2" y1="748.85" x2="307.2" y2="1107.93" stroke="#2b2b2b" stroke-width="1.75" />
<line x1="297.75" y1="1111.14" x2="307.2" y2="1107.93" stroke="#2b2b2b" stroke-width="1.49" />
<line x1="291.75" y1="1108.14" x2="297.75" y2="1111.14" stroke="#2b2b2b" stroke-width="1.49" />
<line x1="303.4" y1="744.65" x2="302.6" y2="742.25" stroke="#2b2b2b" stroke-width="1.05" />
<line x1="307.2" y1="743.85" x2="307.2" y2="1107.93" stroke="#2b2b2b" stroke-width="1.75" />
<polyline points="293.9,746.45 296.9,744.05 301.6,746.05 306.5,743.65" fill="none" stroke="#2b2b2b" stroke-width="1.31" stroke-linejoin="round" stroke-linecap="round" />
<polygon points="230.5,961.25 272,945.5 272,922.5 328,941.25 272,1003.75 272,983.75 230.5,998.75" fill="#232323" stroke="#232323" stroke-width="0.5" stroke-linejoin="round" stroke-linecap="round" />
<polygon points="198,974.5 206.25,971.5 206.25,1007.5 198,1010.5" fill="#232323" stroke="#232323" stroke-width="0.3" stroke-linejoin="round" stroke-linecap="round" />
<polygon points="213.75,968.75 221.25,966.25 221.25,1002.5 213.75,1005" fill="#232323" stroke="#232323" stroke-width="0.3" stroke-linejoin="round" stroke-linecap="round" />
<path d="M333.1,723.1 Q352,707.3 378,708.4 Q432,712 476.3,755 L469.4,761.3 Q428,718 376,710.8 Q352,710 333.1,723.1 Z" fill="#fff" stroke="#1c1c1c" stroke-width="1.25" stroke-linejoin="round" stroke-linecap="round" />
<clipPath id="cB"><circle cx="536" cy="925.8" r="69"/></clipPath>
<circle cx="536" cy="925.8" r="72" fill="#fff" stroke="none" stroke-width="0" />
<g clip-path="url(#cB)">
<polygon points="548.5,911.6 572.7,933 610,919.5 610,1000 548.5,1000" fill="#fff" stroke="none" stroke-width="0" stroke-linejoin="round" stroke-linecap="round" />
<polyline points="496.3,908.4 557.9,888.1 563.75,892 588,884.2" fill="none" stroke="#1c1c1c" stroke-width="1.5" stroke-linejoin="round" stroke-linecap="round" />
<polyline points="496.3,908.4 506.5,916.6 564.5,905.7 557.5,900.6 541.25,905.4" fill="none" stroke="#1c1c1c" stroke-width="1.5" stroke-linejoin="round" stroke-linecap="round" />
<polyline points="508.4,913.6 517.4,909.9 519.4,907.6 526.4,905.3 528.7,907.7 537.6,903 541.1,905.3" fill="none" stroke="#1c1c1c" stroke-width="1.27" stroke-linejoin="round" stroke-linecap="round" />
<line x1="519.6" y1="909.2" x2="528" y2="906.6" stroke="#666" stroke-width="0.7" />
<polyline points="593,892.6 573.9,898.7 585.2,907.3 568,914.7 575.1,921.7 603.5,911.3" fill="none" stroke="#1c1c1c" stroke-width="1.5" stroke-linejoin="round" stroke-linecap="round" />
<line x1="585.2" y1="907.3" x2="585.2" y2="917.2" stroke="#1c1c1c" stroke-width="1.5" />
<line x1="548.4" y1="911.8" x2="548.4" y2="1000" stroke="#1c1c1c" stroke-width="1.5" />
<polyline points="548.4,911.8 572.7,933 606.5,920.7" fill="none" stroke="#1c1c1c" stroke-width="1.5" stroke-linejoin="round" stroke-linecap="round" />
<line x1="572.7" y1="933" x2="572.7" y2="1000" stroke="#1c1c1c" stroke-width="1.5" />
<polygon points="460,926.4 484.2,920 483.8,911.4 496.3,908.4 506.5,916.6 548,903.2 548,911.4 513.9,922.3 537.3,942.3 537.3,1000 460,1000" fill="#fff" stroke="none" stroke-width="0" stroke-linejoin="round" stroke-linecap="round" />
<polyline points="496.3,908.4 506.5,916.6 548.2,903.2" fill="none" stroke="#1c1c1c" stroke-width="1.5" stroke-linejoin="round" stroke-linecap="round" />
<polyline points="508.4,913.6 517.4,909.9 519.4,907.6 526.4,905.3 528.7,907.7 537.6,903 541.1,905.3" fill="none" stroke="#1c1c1c" stroke-width="1.27" stroke-linejoin="round" stroke-linecap="round" />
<polyline points="460,926.4 484.2,920 490,918.4 483.8,911.4 496.3,908.4" fill="none" stroke="#1c1c1c" stroke-width="1.5" stroke-linejoin="round" stroke-linecap="round" />
<line x1="484.2" y1="911.8" x2="484.2" y2="920" stroke="#1c1c1c" stroke-width="1.5" />
<polyline points="548.4,911.3 513.9,922.3 537.3,942.3" fill="none" stroke="#1c1c1c" stroke-width="1.5" stroke-linejoin="round" stroke-linecap="round" />
<line x1="537.3" y1="942.3" x2="537.3" y2="1000" stroke="#1c1c1c" stroke-width="1.5" />
<line x1="537.3" y1="942.3" x2="470" y2="964.4" stroke="#1c1c1c" stroke-width="1.5" />
<polyline points="460,935.4 497.1,925.5 513.9,940.3 466,955.9" fill="none" stroke="#1c1c1c" stroke-width="1.5" stroke-linejoin="round" stroke-linecap="round" />
<line x1="497.1" y1="925.5" x2="497.1" y2="945.8" stroke="#1c1c1c" stroke-width="1.2" />
</g>
<circle cx="536" cy="925.8" r="72" fill="none" stroke="#1c1c1c" stroke-width="1.5" />
<clipPath id="cA"><circle cx="535.5" cy="793.75" r="72"/></clipPath>
<circle cx="535.5" cy="793.75" r="72" fill="#fff" stroke="none" stroke-width="0" />
<g clip-path="url(#cA)">
<polygon points="458,790.99 476.9,786.6 477.1,785 474.1,784 474.4,781.6 480.7,780.3 488.5,787.5 515.1,779.1 519.4,782.8 519.4,870 458,870" fill="#fff" stroke="none" stroke-width="0" stroke-linejoin="round" stroke-linecap="round" />
<polyline points="458,790.99 476.9,786.6 477.1,785 474.1,784 474.4,781.6 480.7,780.3 488.5,787.5 515.1,779.1 519.4,782.8" fill="none" stroke="#1c1c1c" stroke-width="1.5" stroke-linejoin="round" stroke-linecap="round" />
<line x1="519.4" y1="782.8" x2="519.4" y2="870" stroke="#1c1c1c" stroke-width="1.5" />
<polyline points="519.4,782.8 493.8,791.5 506.9,803.75" fill="none" stroke="#1c1c1c" stroke-width="1.5" stroke-linejoin="round" stroke-linecap="round" />
<line x1="506.9" y1="803.75" x2="506.9" y2="870" stroke="#1c1c1c" stroke-width="1.5" />
<line x1="506.9" y1="803.75" x2="458" y2="819.07" stroke="#1c1c1c" stroke-width="1.5" />
<polyline points="458,796.89 480.7,791.6 492.9,802.5 458,813.62" fill="none" stroke="#1c1c1c" stroke-width="1.5" stroke-linejoin="round" stroke-linecap="round" />
<line x1="480.7" y1="791.6" x2="480.7" y2="806.4" stroke="#1c1c1c" stroke-width="1.2" />
<polygon points="535.5,764.5 573.8,751.8 577.7,754.6 591,750 610,770 583.7,779.6 583.7,870 535.5,870" fill="#fff" stroke="none" stroke-width="0" stroke-linejoin="round" stroke-linecap="round" />
<polygon points="583.7,779.6 610,769.2 610,870 583.7,870" fill="#fff" stroke="none" stroke-width="0" stroke-linejoin="round" stroke-linecap="round" />
<line x1="543.2" y1="765.76" x2="543.2" y2="870" stroke="#999" stroke-width="0.7" />
<line x1="549.2" y1="764.44" x2="549.2" y2="870" stroke="#aaa" stroke-width="0.7" />
<line x1="554.8" y1="763.2" x2="554.8" y2="870" stroke="#bbb" stroke-width="0.7" />
<line x1="561.2" y1="761.8" x2="561.2" y2="870" stroke="#aaa" stroke-width="0.7" />
<line x1="564.2" y1="761.14" x2="564.2" y2="870" stroke="#777" stroke-width="0.8" />
<polyline points="535.5,764.5 573.8,751.8 577.7,754.6 593,749.3" fill="none" stroke="#1c1c1c" stroke-width="1.5" stroke-linejoin="round" stroke-linecap="round" />
<line x1="535.5" y1="764.5" x2="535.5" y2="870" stroke="#1c1c1c" stroke-width="1.72" />
<line x1="541.1" y1="769.4" x2="541.1" y2="870" stroke="#1c1c1c" stroke-width="1.5" />
<polyline points="535.5,764.5 541.1,769.4 542.9,766.9 548.9,764.5 561.2,761 564,762.7 573.8,758.9 578.7,763.4 568.9,767.9" fill="none" stroke="#1c1c1c" stroke-width="1.5" stroke-linejoin="round" stroke-linecap="round" />
<line x1="568.9" y1="767.9" x2="568.9" y2="870" stroke="#1c1c1c" stroke-width="1.5" />
<polyline points="568.9,767.9 583.7,779.6 604.5,771.4" fill="none" stroke="#1c1c1c" stroke-width="1.5" stroke-linejoin="round" stroke-linecap="round" />
<line x1="583.7" y1="779.6" x2="583.7" y2="870" stroke="#1c1c1c" stroke-width="1.5" />
<polyline points="596,754.4 584.4,758.1 591,764.1 580.9,768.7 584.7,772.9 604,767" fill="none" stroke="#1c1c1c" stroke-width="1.5" stroke-linejoin="round" stroke-linecap="round" />
<polyline points="591,764.1 591.4,770.4" fill="none" stroke="#1c1c1c" stroke-width="1.5" stroke-linejoin="round" stroke-linecap="round" />
<ellipse cx="552.6" cy="849.4" rx="2" ry="3.6" fill="#fff" stroke="#333" stroke-width="0.9"/>
<ellipse cx="552.9" cy="849.7" rx="1" ry="2.3" fill="#777" stroke="none"/>
</g>
<circle cx="535.5" cy="793.75" r="72" fill="none" stroke="#1c1c1c" stroke-width="1.5" />
<line x1="475" y1="756.3" x2="470.4" y2="760.4" stroke="#fff" stroke-width="2.6" />
<clipPath id="cC"><circle cx="418.4" cy="1159.7" r="48"/></clipPath>
<g clip-path="url(#cC)">
<polygon points="393.2,1143.6 432.65,1130.52 436.67,1133.4 450.37,1128.66 469.94,1149.26 442.85,1159.15 442.85,1215 393.2,1215" fill="#fff" stroke="none" stroke-width="0" stroke-linejoin="round" stroke-linecap="round" />
<polygon points="442.85,1159.15 469.94,1148.44 469.94,1215 442.85,1215" fill="#fff" stroke="none" stroke-width="0" stroke-linejoin="round" stroke-linecap="round" />
<line x1="401.13" y1="1144.89" x2="401.13" y2="1215" stroke="#999" stroke-width="0.71" />
<line x1="407.31" y1="1143.53" x2="407.31" y2="1215" stroke="#aaa" stroke-width="0.71" />
<line x1="413.08" y1="1142.27" x2="413.08" y2="1215" stroke="#bbb" stroke-width="0.71" />
<line x1="419.67" y1="1140.81" x2="419.67" y2="1215" stroke="#aaa" stroke-width="0.71" />
<line x1="422.76" y1="1140.14" x2="422.76" y2="1215" stroke="#777" stroke-width="0.81" />
<polyline points="393.2,1143.6 432.65,1130.52 436.67,1133.4 452.43,1127.94" fill="none" stroke="#1c1c1c" stroke-width="1.45" stroke-linejoin="round" stroke-linecap="round" />
<line x1="393.2" y1="1143.6" x2="393.2" y2="1215" stroke="#1c1c1c" stroke-width="1.67" />
<line x1="398.97" y1="1148.65" x2="398.97" y2="1215" stroke="#1c1c1c" stroke-width="1.45" />
<polyline points="393.2,1143.6 398.97,1148.65 400.82,1146.07 407,1143.6 419.67,1139.99 422.56,1141.75 432.65,1137.83 437.7,1142.47 427.6,1147.1" fill="none" stroke="#1c1c1c" stroke-width="1.45" stroke-linejoin="round" stroke-linecap="round" />
<line x1="427.6" y1="1147.1" x2="427.6" y2="1215" stroke="#1c1c1c" stroke-width="1.45" />
<polyline points="427.6,1147.1 442.85,1159.15 464.27,1150.71" fill="none" stroke="#1c1c1c" stroke-width="1.45" stroke-linejoin="round" stroke-linecap="round" />
<line x1="442.85" y1="1159.15" x2="442.85" y2="1215" stroke="#1c1c1c" stroke-width="1.45" />
<polyline points="455.51,1133.2 443.57,1137.01 450.37,1143.19 439.96,1147.93 443.88,1152.25 463.75,1146.17" fill="none" stroke="#1c1c1c" stroke-width="1.45" stroke-linejoin="round" stroke-linecap="round" />
<polyline points="450.37,1143.19 450.78,1149.68" fill="none" stroke="#1c1c1c" stroke-width="1.45" stroke-linejoin="round" stroke-linecap="round" />
<ellipse cx="411.2" cy="1178.6" rx="2.06" ry="3.71" fill="#fff" stroke="#333" stroke-width="0.9"/>
<ellipse cx="411.5" cy="1178.9" rx="1.03" ry="2.37" fill="#777" stroke="none"/>
</g>
<path d="M388.19,1122.4 A48,48 0 1 1 373.59,1142.5" fill="none" stroke="#1c1c1c" stroke-width="1.5" stroke-linejoin="round" stroke-linecap="round" />
<g transform="translate(379.8 1102.2) rotate(0) scale(1)">
<path d="M-8.3,0 L8.3,0 Q9.2,1 8,2.3 L2.4,8.4 L-2.4,8.4 L-8,2.3 Q-9.2,1 -8.3,0 Z" fill="#fff" stroke="#222" stroke-width="1.3" stroke-linejoin="round" stroke-linecap="round" />
<path d="M-6.3,2 Q0,4.6 6.3,2" fill="none" stroke="#888" stroke-width="0.59" stroke-linejoin="round" stroke-linecap="round" />
<path d="M-5,3.2 Q0,5.4 5,3.2" fill="none" stroke="#999" stroke-width="0.59" stroke-linejoin="round" stroke-linecap="round" />
<path d="M-2.4,8.4 Q-5.6,10.6 -2.4,12.8 Q-5.6,15 -2.4,17.2 Q-5.6,19.4 -2.4,21.6 Q-5.6,23.8 -2.4,26 L-2.5,33 L0,36.5 L2.5,33 L2.4,26 Q5.6,23.8 2.4,21.6 Q5.6,19.4 2.4,17.2 Q5.6,15 2.4,12.8 Q5.6,10.6 2.4,8.4 Z" fill="#fff" stroke="#222" stroke-width="1.3" stroke-linejoin="round" stroke-linecap="round" />
<path d="M-2.6,13 L2.6,10.6" fill="none" stroke="#222" stroke-width="1.04" stroke-linejoin="round" stroke-linecap="round" />
<path d="M-2.6,8.6 L2.6,10.8" fill="none" stroke="#222" stroke-width="0.91" stroke-linejoin="round" stroke-linecap="round" />
<path d="M-2.6,17.4 L2.6,15" fill="none" stroke="#222" stroke-width="1.04" stroke-linejoin="round" stroke-linecap="round" />
<path d="M-2.6,13 L2.6,15.2" fill="none" stroke="#222" stroke-width="0.91" stroke-linejoin="round" stroke-linecap="round" />
<path d="M-2.6,21.8 L2.6,19.4" fill="none" stroke="#222" stroke-width="1.04" stroke-linejoin="round" stroke-linecap="round" />
<path d="M-2.6,17.4 L2.6,19.6" fill="none" stroke="#222" stroke-width="0.91" stroke-linejoin="round" stroke-linecap="round" />
<path d="M-2.6,26.2 L2.6,23.8" fill="none" stroke="#222" stroke-width="1.04" stroke-linejoin="round" stroke-linecap="round" />
<path d="M-2.6,21.8 L2.6,24" fill="none" stroke="#222" stroke-width="0.91" stroke-linejoin="round" stroke-linecap="round" />
<path d="M-2.5,26.4 Q0,28 2.5,26.4" fill="none" stroke="#222" stroke-width="0.91" stroke-linejoin="round" stroke-linecap="round" />
</g>
<clipPath id="cD"><circle cx="558.4" cy="1159.7" r="48"/></clipPath>
<g clip-path="url(#cD)">
<polyline points="505,1163.94 527.2,1157.8 527.7,1155.1 524.5,1154.5 525,1152.3 531,1150.7 538.7,1156.7 572.6,1145.8 577,1149.6" fill="none" stroke="#1c1c1c" stroke-width="1.45" stroke-linejoin="round" stroke-linecap="round" />
<line x1="577" y1="1149.6" x2="577" y2="1215" stroke="#1c1c1c" stroke-width="1.45" />
<polyline points="577,1149.6 544.7,1160.5 558.9,1174.2" fill="none" stroke="#1c1c1c" stroke-width="1.45" stroke-linejoin="round" stroke-linecap="round" />
<line x1="558.9" y1="1174.2" x2="558.9" y2="1215" stroke="#1c1c1c" stroke-width="1.45" />
<line x1="558.9" y1="1174.2" x2="505" y2="1191.17" stroke="#1c1c1c" stroke-width="1.45" />
<polyline points="505,1169.94 532.1,1163.1 543.6,1172 505,1182.52" fill="none" stroke="#1c1c1c" stroke-width="1.45" stroke-linejoin="round" stroke-linecap="round" />
<line x1="532.1" y1="1163.1" x2="532.1" y2="1175.2" stroke="#1c1c1c" stroke-width="1.16" />
</g>
<path d="M544.93,1113.63 A48,48 0 1 1 515.22,1138.73" fill="none" stroke="#1c1c1c" stroke-width="1.5" stroke-linejoin="round" stroke-linecap="round" />
<path d="M510.56,1107.37 L517.81,1107.37 L517.81,1105.61 A4.84,4.84 0 0 1 527.48,1105.61 L527.48,1107.37 L534.92,1107.37 L534.92,1117.32 L538.18,1117.32 A4.84,4.84 0 0 1 538.18,1127 L534.92,1127 L534.92,1133.69 L510.56,1133.69 L510.56,1127.09 L514,1127.09 A4.98,4.98 0 0 0 514,1117.23 L510.56,1117.23 Z" fill="none" stroke="#111" stroke-width="1.95" stroke-linejoin="round" stroke-linecap="round" />
<path d="M134.2,1191.1 L142,1191.1 L142,1189.2 A5.2,5.2 0 0 1 152.4,1189.2 L152.4,1191.1 L160.4,1191.1 L160.4,1201.8 L163.9,1201.8 A5.2,5.2 0 0 1 163.9,1212.2 L160.4,1212.2 L160.4,1219.4 L134.2,1219.4 L134.2,1212.3 L137.9,1212.3 A5.36,5.36 0 0 0 137.9,1201.7 L134.2,1201.7 Z" fill="none" stroke="#111" stroke-width="2.1" stroke-linejoin="round" stroke-linecap="round" />
<circle cx="163.9" cy="1206.9" r="1.3" fill="#111" stroke="none" stroke-width="0" />
<line x1="699.4" y1="722.25" x2="811.5" y2="786.5" stroke="#1c1c1c" stroke-width="1.5" />
<line x1="811.5" y1="786.5" x2="811.4" y2="1147.6" stroke="#1c1c1c" stroke-width="1.5" />
<line x1="811.5" y1="786.5" x2="983" y2="729.05" stroke="#1c1c1c" stroke-width="1.5" />
<line x1="699.4" y1="1083.5" x2="811.4" y2="1147.6" stroke="#1c1c1c" stroke-width="1.5" />
<line x1="811.4" y1="1147.6" x2="983" y2="1089.98" stroke="#1c1c1c" stroke-width="1.5" />
<polygon points="838.6,809.6 982,760.84 982,765.48 844.6,812.2" fill="#fff" stroke="#1c1c1c" stroke-width="1.45" stroke-linejoin="round" stroke-linecap="round" />
<polygon points="844.6,812.2 982,765.48 982,775.03 844.6,822.3" fill="#fff" stroke="#1c1c1c" stroke-width="1.45" stroke-linejoin="round" stroke-linecap="round" />
<polygon points="838.6,809.6 844.6,812.2 844.6,822.3 838.6,819.8" fill="#fff" stroke="#1c1c1c" stroke-width="1.45" stroke-linejoin="round" stroke-linecap="round" />
<circle cx="851.6" cy="815.1" r="0.8" fill="#666" stroke="none" stroke-width="0" />
<circle cx="906.6" cy="796.4" r="0.8" fill="#666" stroke="none" stroke-width="0" />
<circle cx="960.85" cy="778" r="0.8" fill="#666" stroke="none" stroke-width="0" />
<polygon points="838.6,867.94 982,819.18 982,823.82 844.6,870.54" fill="#fff" stroke="#1c1c1c" stroke-width="1.45" stroke-linejoin="round" stroke-linecap="round" />
<polygon points="844.6,870.54 982,823.82 982,833.37 844.6,880.64" fill="#fff" stroke="#1c1c1c" stroke-width="1.45" stroke-linejoin="round" stroke-linecap="round" />
<polygon points="838.6,867.94 844.6,870.54 844.6,880.64 838.6,878.14" fill="#fff" stroke="#1c1c1c" stroke-width="1.45" stroke-linejoin="round" stroke-linecap="round" />
<circle cx="851.6" cy="873.44" r="0.8" fill="#666" stroke="none" stroke-width="0" />
<circle cx="906.6" cy="854.74" r="0.8" fill="#666" stroke="none" stroke-width="0" />
<circle cx="960.85" cy="836.34" r="0.8" fill="#666" stroke="none" stroke-width="0" />
<polygon points="838.6,926.28 982,877.52 982,882.16 844.6,928.88" fill="#fff" stroke="#1c1c1c" stroke-width="1.45" stroke-linejoin="round" stroke-linecap="round" />
<polygon points="844.6,928.88 982,882.16 982,891.71 844.6,938.98" fill="#fff" stroke="#1c1c1c" stroke-width="1.45" stroke-linejoin="round" stroke-linecap="round" />
<polygon points="838.6,926.28 844.6,928.88 844.6,938.98 838.6,936.48" fill="#fff" stroke="#1c1c1c" stroke-width="1.45" stroke-linejoin="round" stroke-linecap="round" />
<circle cx="851.6" cy="931.78" r="0.8" fill="#666" stroke="none" stroke-width="0" />
<circle cx="906.6" cy="913.08" r="0.8" fill="#666" stroke="none" stroke-width="0" />
<circle cx="960.85" cy="894.68" r="0.8" fill="#666" stroke="none" stroke-width="0" />
<polygon points="838.6,984.62 982,935.86 982,940.5 844.6,987.22" fill="#fff" stroke="#1c1c1c" stroke-width="1.45" stroke-linejoin="round" stroke-linecap="round" />
<polygon points="844.6,987.22 982,940.5 982,950.05 844.6,997.32" fill="#fff" stroke="#1c1c1c" stroke-width="1.45" stroke-linejoin="round" stroke-linecap="round" />
<polygon points="838.6,984.62 844.6,987.22 844.6,997.32 838.6,994.82" fill="#fff" stroke="#1c1c1c" stroke-width="1.45" stroke-linejoin="round" stroke-linecap="round" />
<circle cx="851.6" cy="990.12" r="0.8" fill="#666" stroke="none" stroke-width="0" />
<circle cx="906.6" cy="971.42" r="0.8" fill="#666" stroke="none" stroke-width="0" />
<circle cx="960.85" cy="953.02" r="0.8" fill="#666" stroke="none" stroke-width="0" />
<polygon points="838.6,1042.96 982,994.2 982,998.84 844.6,1045.56" fill="#fff" stroke="#1c1c1c" stroke-width="1.45" stroke-linejoin="round" stroke-linecap="round" />
<polygon points="844.6,1045.56 982,998.84 982,1008.39 844.6,1055.66" fill="#fff" stroke="#1c1c1c" stroke-width="1.45" stroke-linejoin="round" stroke-linecap="round" />
<polygon points="838.6,1042.96 844.6,1045.56 844.6,1055.66 838.6,1053.16" fill="#fff" stroke="#1c1c1c" stroke-width="1.45" stroke-linejoin="round" stroke-linecap="round" />
<circle cx="851.6" cy="1048.46" r="0.8" fill="#666" stroke="none" stroke-width="0" />
<circle cx="906.6" cy="1029.76" r="0.8" fill="#666" stroke="none" stroke-width="0" />
<circle cx="960.85" cy="1011.36" r="0.8" fill="#666" stroke="none" stroke-width="0" />
<polygon points="838.6,1101.3 982,1052.54 982,1057.18 844.6,1103.9" fill="#fff" stroke="#1c1c1c" stroke-width="1.45" stroke-linejoin="round" stroke-linecap="round" />
<polygon points="844.6,1103.9 982,1057.18 982,1066.73 844.6,1114" fill="#fff" stroke="#1c1c1c" stroke-width="1.45" stroke-linejoin="round" stroke-linecap="round" />
<polygon points="838.6,1101.3 844.6,1103.9 844.6,1114 838.6,1111.5" fill="#fff" stroke="#1c1c1c" stroke-width="1.45" stroke-linejoin="round" stroke-linecap="round" />
<circle cx="851.6" cy="1106.8" r="0.8" fill="#666" stroke="none" stroke-width="0" />
<circle cx="906.6" cy="1088.1" r="0.8" fill="#666" stroke="none" stroke-width="0" />
<circle cx="960.85" cy="1069.7" r="0.8" fill="#666" stroke="none" stroke-width="0" />
<polygon points="982,730.3 1110.96,688.79 1110.96,1051.13 1101.51,1054.34 1095.43,1051.34 1095.43,1056.41 1085.98,1059.62 1079.9,1056.62 1079.9,1061.69 1070.45,1064.9 1064.37,1061.9 1064.37,1066.97 1054.92,1070.18 1048.84,1067.18 1048.84,1072.25 1039.39,1075.46 1033.31,1072.46 1033.31,1077.53 1023.86,1080.74 1017.78,1077.74 1017.78,1082.81 1008.33,1086.02 1002.25,1083.02 1002.25,1088.09 992.8,1091.3 992.8,1089.1 990.6,1088.3 982,1090" fill="#fff" stroke="none" stroke-width="0" stroke-linejoin="round" stroke-linecap="round" />
<line x1="982" y1="730.3" x2="1110.96" y2="688.79" stroke="#2b2b2b" stroke-width="1.4" />
<line x1="982" y1="730.3" x2="982" y2="1090" stroke="#2b2b2b" stroke-width="1.49" />
<line x1="982" y1="1090" x2="990.6" y2="1088.3" stroke="#2b2b2b" stroke-width="1.4" />
<line x1="989.4" y1="731.8" x2="989.4" y2="1088.5" stroke="#989898" stroke-width="2.6" />
<polyline points="982,730.3 988.6,728 992,730.9" fill="none" stroke="#2b2b2b" stroke-width="1.22" stroke-linejoin="round" stroke-linecap="round" />
<polyline points="984,732.1 990,730.1 994.5,732" fill="none" stroke="#666" stroke-width="0.88" stroke-linejoin="round" stroke-linecap="round" />
<circle cx="985.9" cy="773" r="0.85" fill="#888" stroke="none" stroke-width="0" />
<circle cx="985.9" cy="831.1" r="0.85" fill="#888" stroke="none" stroke-width="0" />
<circle cx="985.9" cy="889.2" r="0.85" fill="#888" stroke="none" stroke-width="0" />
<circle cx="985.9" cy="947.3" r="0.85" fill="#888" stroke="none" stroke-width="0" />
<circle cx="985.9" cy="1005.4" r="0.85" fill="#888" stroke="none" stroke-width="0" />
<circle cx="985.9" cy="1063.5" r="0.85" fill="#888" stroke="none" stroke-width="0" />
<polygon points="992.8,734.2 1002.25,730.97 997.45,726.97 988,730.2" fill="#fff" stroke="#2b2b2b" stroke-width="1.4" stroke-linejoin="round" stroke-linecap="round" />
<line x1="992.8" y1="734.2" x2="992.8" y2="1091.3" stroke="#2b2b2b" stroke-width="1.75" />
<line x1="1002.25" y1="730.97" x2="1002.25" y2="1088.09" stroke="#2b2b2b" stroke-width="1.75" />
<line x1="992.8" y1="1091.3" x2="1002.25" y2="1088.09" stroke="#2b2b2b" stroke-width="1.49" />
<line x1="998.45" y1="726.77" x2="997.65" y2="724.37" stroke="#2b2b2b" stroke-width="1.05" />
<polygon points="1008.33,728.89 1017.78,725.66 1012.98,721.66 1003.53,724.89" fill="#fff" stroke="#2b2b2b" stroke-width="1.4" stroke-linejoin="round" stroke-linecap="round" />
<line x1="1008.33" y1="728.89" x2="1008.33" y2="1086.02" stroke="#2b2b2b" stroke-width="1.75" />
<line x1="1017.78" y1="725.66" x2="1017.78" y2="1082.81" stroke="#2b2b2b" stroke-width="1.75" />
<line x1="1008.33" y1="1086.02" x2="1017.78" y2="1082.81" stroke="#2b2b2b" stroke-width="1.49" />
<line x1="1002.25" y1="1083.02" x2="1008.33" y2="1086.02" stroke="#2b2b2b" stroke-width="1.49" />
<line x1="1013.98" y1="721.46" x2="1013.18" y2="719.06" stroke="#2b2b2b" stroke-width="1.05" />
<polygon points="1023.86,723.58 1033.31,720.35 1028.51,716.35 1019.06,719.58" fill="#fff" stroke="#2b2b2b" stroke-width="1.4" stroke-linejoin="round" stroke-linecap="round" />
<line x1="1023.86" y1="723.58" x2="1023.86" y2="1080.74" stroke="#2b2b2b" stroke-width="1.75" />
<line x1="1033.31" y1="720.35" x2="1033.31" y2="1077.53" stroke="#2b2b2b" stroke-width="1.75" />
<line x1="1023.86" y1="1080.74" x2="1033.31" y2="1077.53" stroke="#2b2b2b" stroke-width="1.49" />
<line x1="1017.78" y1="1077.74" x2="1023.86" y2="1080.74" stroke="#2b2b2b" stroke-width="1.49" />
<line x1="1029.51" y1="716.15" x2="1028.71" y2="713.75" stroke="#2b2b2b" stroke-width="1.05" />
<polygon points="1039.39,718.27 1048.84,715.03 1044.04,711.03 1034.59,714.27" fill="#fff" stroke="#2b2b2b" stroke-width="1.4" stroke-linejoin="round" stroke-linecap="round" />
<line x1="1039.39" y1="718.27" x2="1039.39" y2="1075.46" stroke="#2b2b2b" stroke-width="1.75" />
<line x1="1048.84" y1="715.03" x2="1048.84" y2="1072.25" stroke="#2b2b2b" stroke-width="1.75" />
<line x1="1039.39" y1="1075.46" x2="1048.84" y2="1072.25" stroke="#2b2b2b" stroke-width="1.49" />
<line x1="1033.31" y1="1072.46" x2="1039.39" y2="1075.46" stroke="#2b2b2b" stroke-width="1.49" />
<line x1="1045.04" y1="710.83" x2="1044.24" y2="708.43" stroke="#2b2b2b" stroke-width="1.05" />
<polygon points="1054.92,712.95 1064.37,709.72 1059.57,705.72 1050.12,708.95" fill="#fff" stroke="#2b2b2b" stroke-width="1.4" stroke-linejoin="round" stroke-linecap="round" />
<line x1="1054.92" y1="712.95" x2="1054.92" y2="1070.18" stroke="#2b2b2b" stroke-width="1.75" />
<line x1="1064.37" y1="709.72" x2="1064.37" y2="1066.97" stroke="#2b2b2b" stroke-width="1.75" />
<line x1="1054.92" y1="1070.18" x2="1064.37" y2="1066.97" stroke="#2b2b2b" stroke-width="1.49" />
<line x1="1048.84" y1="1067.18" x2="1054.92" y2="1070.18" stroke="#2b2b2b" stroke-width="1.49" />
<line x1="1060.57" y1="705.52" x2="1059.77" y2="703.12" stroke="#2b2b2b" stroke-width="1.05" />
<polygon points="1070.45,707.64 1079.9,704.41 1075.1,700.41 1065.65,703.64" fill="#fff" stroke="#2b2b2b" stroke-width="1.4" stroke-linejoin="round" stroke-linecap="round" />
<line x1="1070.45" y1="707.64" x2="1070.45" y2="1064.9" stroke="#2b2b2b" stroke-width="1.75" />
<line x1="1079.9" y1="704.41" x2="1079.9" y2="1061.69" stroke="#2b2b2b" stroke-width="1.75" />
<line x1="1070.45" y1="1064.9" x2="1079.9" y2="1061.69" stroke="#2b2b2b" stroke-width="1.49" />
<line x1="1064.37" y1="1061.9" x2="1070.45" y2="1064.9" stroke="#2b2b2b" stroke-width="1.49" />
<line x1="1076.1" y1="700.21" x2="1075.3" y2="697.81" stroke="#2b2b2b" stroke-width="1.05" />
<polygon points="1085.98,702.33 1095.43,699.1 1090.63,695.1 1081.18,698.33" fill="#fff" stroke="#2b2b2b" stroke-width="1.4" stroke-linejoin="round" stroke-linecap="round" />
<line x1="1085.98" y1="702.33" x2="1085.98" y2="1059.62" stroke="#2b2b2b" stroke-width="1.75" />
<line x1="1095.43" y1="699.1" x2="1095.43" y2="1056.41" stroke="#2b2b2b" stroke-width="1.75" />
<line x1="1085.98" y1="1059.62" x2="1095.43" y2="1056.41" stroke="#2b2b2b" stroke-width="1.49" />
<line x1="1079.9" y1="1056.62" x2="1085.98" y2="1059.62" stroke="#2b2b2b" stroke-width="1.49" />
<line x1="1091.63" y1="694.9" x2="1090.83" y2="692.5" stroke="#2b2b2b" stroke-width="1.05" />
<polygon points="1101.51,697.02 1110.96,693.79 1106.16,689.79 1096.71,693.02" fill="#fff" stroke="#2b2b2b" stroke-width="1.4" stroke-linejoin="round" stroke-linecap="round" />
<line x1="1101.51" y1="697.02" x2="1101.51" y2="1054.34" stroke="#2b2b2b" stroke-width="1.75" />
<line x1="1110.96" y1="693.79" x2="1110.96" y2="1051.13" stroke="#2b2b2b" stroke-width="1.75" />
<line x1="1101.51" y1="1054.34" x2="1110.96" y2="1051.13" stroke="#2b2b2b" stroke-width="1.49" />
<line x1="1095.43" y1="1051.34" x2="1101.51" y2="1054.34" stroke="#2b2b2b" stroke-width="1.49" />
<line x1="1107.16" y1="689.59" x2="1106.36" y2="687.19" stroke="#2b2b2b" stroke-width="1.05" />
<line x1="1110.96" y1="688.79" x2="1110.96" y2="1051.13" stroke="#2b2b2b" stroke-width="1.75" />
<polyline points="1097.66,691.39 1100.66,688.99 1105.36,690.99 1110.26,688.59" fill="none" stroke="#2b2b2b" stroke-width="1.31" stroke-linejoin="round" stroke-linecap="round" />
<line x1="1042.5" y1="710.6" x2="1052" y2="707.6" stroke="#333" stroke-width="1.6" />
<polygon points="1148.9,729.1 1187.2,716.4 1191.1,719.2 1204.4,714.6 1223.4,734.6 1197.1,744.2 1197.1,829 1148.9,829" fill="#fff" stroke="none" stroke-width="0" stroke-linejoin="round" stroke-linecap="round" />
<polygon points="1197.1,744.2 1223.4,733.8 1223.4,829 1197.1,829" fill="#fff" stroke="none" stroke-width="0" stroke-linejoin="round" stroke-linecap="round" />
<line x1="1156.6" y1="730.36" x2="1156.6" y2="829" stroke="#999" stroke-width="0.7" />
<line x1="1162.6" y1="729.04" x2="1162.6" y2="829" stroke="#aaa" stroke-width="0.7" />
<line x1="1168.2" y1="727.8" x2="1168.2" y2="829" stroke="#bbb" stroke-width="0.7" />
<line x1="1174.6" y1="726.4" x2="1174.6" y2="829" stroke="#aaa" stroke-width="0.7" />
<line x1="1177.6" y1="725.74" x2="1177.6" y2="829" stroke="#777" stroke-width="0.8" />
<polyline points="1148.9,729.1 1187.2,716.4 1191.1,719.2 1206.4,713.9" fill="none" stroke="#1c1c1c" stroke-width="1.4" stroke-linejoin="round" stroke-linecap="round" />
<line x1="1148.9" y1="729.1" x2="1148.9" y2="829" stroke="#1c1c1c" stroke-width="1.61" />
<line x1="1154.5" y1="734" x2="1154.5" y2="829" stroke="#1c1c1c" stroke-width="1.4" />
<polyline points="1148.9,729.1 1154.5,734 1156.3,731.5 1162.3,729.1 1174.6,725.6 1177.4,727.3 1187.2,723.5 1192.1,728 1182.3,732.5" fill="none" stroke="#1c1c1c" stroke-width="1.4" stroke-linejoin="round" stroke-linecap="round" />
<line x1="1182.3" y1="732.5" x2="1182.3" y2="829" stroke="#1c1c1c" stroke-width="1.4" />
<polyline points="1182.3,732.5 1197.1,744.2 1217.9,736" fill="none" stroke="#1c1c1c" stroke-width="1.4" stroke-linejoin="round" stroke-linecap="round" />
<line x1="1197.1" y1="744.2" x2="1197.1" y2="829" stroke="#1c1c1c" stroke-width="1.4" />
<polyline points="1209.4,719 1197.8,722.7 1204.4,728.7 1194.3,733.3 1198.1,737.5 1217.4,731.6" fill="none" stroke="#1c1c1c" stroke-width="1.4" stroke-linejoin="round" stroke-linecap="round" />
<polyline points="1204.4,728.7 1204.8,735" fill="none" stroke="#1c1c1c" stroke-width="1.4" stroke-linejoin="round" stroke-linecap="round" />
<rect x="1182.0" y="820.8" width="40" height="10" fill="#fff"/>
<rect x="1195.0" y="810.5" width="30" height="12" fill="#fff"/>
<rect x="1198.3" y="746.4" width="30" height="70" fill="#fff"/>
<line x1="1166" y1="815.8" x2="1196" y2="832.4" stroke="#1c1c1c" stroke-width="1.2" stroke-dasharray="5 4.5"/>
<line x1="1228.6" y1="851" x2="1240" y2="856.6" stroke="#1c1c1c" stroke-width="1.1" stroke-dasharray="5 4.5"/>
<g transform="translate(1195.0 831.0) rotate(33) scale(0.66)">
<line x1="1.06" y1="1.94" x2="11.99" y2="0.08" stroke="#111" stroke-width="2.7" stroke-linecap="round"/>
<path d="M12.54,-0.03 C12.81,-2.22 15,-3.04 19.37,-4.4 C20.46,-5.22 21.01,-6.59 22.38,-7.14 L39.05,-9.6 C40.97,-8.78 42.88,-7.14 43.7,-5.77 C43.43,-4.84 41.68,-4.73 41.24,-3.86 C43.97,-0.03 45.34,7.62 45.61,13.64 C45.61,16.65 43.43,17.74 38.51,18.01" fill="none" stroke="#111" stroke-width="2.15" stroke-linejoin="round" stroke-linecap="round" />
<path d="M12.54,-0.03 C12.81,2.16 14.45,3.03 16.64,2.81 L19.64,2.7 C21.56,3.8 22.65,6.64 25.39,6.91 C28.67,6.91 31.95,5.16 34.68,5.16 C36.87,5.44 36.76,7.08 37.14,8.44 C38.51,9.81 40.26,11.45 39.87,14.46" fill="none" stroke="#111" stroke-width="2.15" stroke-linejoin="round" stroke-linecap="round" />
</g>
<g transform="translate(1255.8 866.6) rotate(117) scale(0.46)">
<path d="M-8.3,0 L8.3,0 Q9.2,1 8,2.3 L2.4,8.4 L-2.4,8.4 L-8,2.3 Q-9.2,1 -8.3,0 Z" fill="#fff" stroke="#222" stroke-width="2.07" stroke-linejoin="round" stroke-linecap="round" />
<path d="M-6.3,2 Q0,4.6 6.3,2" fill="none" stroke="#888" stroke-width="0.93" stroke-linejoin="round" stroke-linecap="round" />
<path d="M-5,3.2 Q0,5.4 5,3.2" fill="none" stroke="#999" stroke-width="0.93" stroke-linejoin="round" stroke-linecap="round" />
<path d="M-2.4,8.4 Q-5.6,10.6 -2.4,12.8 Q-5.6,15 -2.4,17.2 Q-5.6,19.4 -2.4,21.6 Q-5.6,23.8 -2.4,26 L-2.5,33 L0,36.5 L2.5,33 L2.4,26 Q5.6,23.8 2.4,21.6 Q5.6,19.4 2.4,17.2 Q5.6,15 2.4,12.8 Q5.6,10.6 2.4,8.4 Z" fill="#fff" stroke="#222" stroke-width="2.07" stroke-linejoin="round" stroke-linecap="round" />
<path d="M-2.6,13 L2.6,10.6" fill="none" stroke="#222" stroke-width="1.65" stroke-linejoin="round" stroke-linecap="round" />
<path d="M-2.6,8.6 L2.6,10.8" fill="none" stroke="#222" stroke-width="1.45" stroke-linejoin="round" stroke-linecap="round" />
<path d="M-2.6,17.4 L2.6,15" fill="none" stroke="#222" stroke-width="1.65" stroke-linejoin="round" stroke-linecap="round" />
<path d="M-2.6,13 L2.6,15.2" fill="none" stroke="#222" stroke-width="1.45" stroke-linejoin="round" stroke-linecap="round" />
<path d="M-2.6,21.8 L2.6,19.4" fill="none" stroke="#222" stroke-width="1.65" stroke-linejoin="round" stroke-linecap="round" />
<path d="M-2.6,17.4 L2.6,19.6" fill="none" stroke="#222" stroke-width="1.45" stroke-linejoin="round" stroke-linecap="round" />
<path d="M-2.6,26.2 L2.6,23.8" fill="none" stroke="#222" stroke-width="1.65" stroke-linejoin="round" stroke-linecap="round" />
<path d="M-2.6,21.8 L2.6,24" fill="none" stroke="#222" stroke-width="1.45" stroke-linejoin="round" stroke-linecap="round" />
<path d="M-2.5,26.4 Q0,28 2.5,26.4" fill="none" stroke="#222" stroke-width="1.45" stroke-linejoin="round" stroke-linecap="round" />
</g>
<circle cx="1140.9" cy="1065.9" r="10.6" fill="none" stroke="#111" stroke-width="1.7" />
<circle cx="1137.3" cy="1062.9" r="1.5" fill="#111" stroke="none" stroke-width="0" />
<circle cx="1144.5" cy="1062.9" r="1.5" fill="#111" stroke="none" stroke-width="0" />
<path d="M1135.6,1067.7 Q1140.9,1069.1 1146.2,1067.7 Q1140.9,1076.4 1135.6,1067.7 Z" fill="#111" stroke="#111" stroke-width="0.6" stroke-linejoin="round" stroke-linecap="round" />
<path d="M1038.8,1082.5 Q1046,1130 1086.6,1143.5 L1090.2,1155 Q1056,1143 1038.8,1082.5 Z" fill="#fff" stroke="#1c1c1c" stroke-width="1.3" stroke-linejoin="round" stroke-linecap="round" />
<clipPath id="cp1132a"><circle cx="1132.5" cy="1136.25" r="46.4"/></clipPath>
<clipPath id="cp1132b"><circle cx="1220.4" cy="1136.25" r="46.3"/></clipPath>
<circle cx="1220.4" cy="1136.25" r="46.3" fill="#fff" stroke="none" stroke-width="0" />
<g clip-path="url(#cp1132b)">
<line x1="1187" y1="1089.95" x2="1187" y2="1182.55" stroke="#2e2e2e" stroke-width="1.9" />
<line x1="1194" y1="1089.95" x2="1194" y2="1182.55" stroke="#8c8c8c" stroke-width="1.2" />
<line x1="1202.8" y1="1089.95" x2="1202.8" y2="1182.55" stroke="#b0b0b0" stroke-width="1.2" />
<line x1="1210.8" y1="1089.95" x2="1210.8" y2="1182.55" stroke="#8c8c8c" stroke-width="1.2" />
<line x1="1220.1" y1="1089.95" x2="1220.1" y2="1182.55" stroke="#2e2e2e" stroke-width="1.9" />
<line x1="1240.7" y1="1089.95" x2="1240.7" y2="1182.55" stroke="#2e2e2e" stroke-width="1.9" />
<ellipse cx="1203.2" cy="1135.65" rx="3.9" ry="6.6" fill="#fff" stroke="#999" stroke-width="1"/>
<path d="M1204,1130.45 Q1206.8,1135.65 1204,1140.85" fill="none" stroke="#aaa" stroke-width="0.8"/>
<path d="M1213.1,1135.95 L1215.9,1133.35 L1226.6,1133.35 L1226.6,1138.55 L1215.9,1138.55 Z" fill="#fff" stroke="#2a2a2a" stroke-width="1.15" stroke-linejoin="round" stroke-linecap="round" />
<polygon points="1225.7,1135.95 1229.2,1129.95 1232.7,1135.95 1229.2,1141.95" fill="#fff" stroke="#2a2a2a" stroke-width="1.15" stroke-linejoin="round" stroke-linecap="round" />
<polygon points="1232.3,1135.95 1235.8,1129.95 1239.3,1135.95 1235.8,1141.95" fill="#fff" stroke="#2a2a2a" stroke-width="1.15" stroke-linejoin="round" stroke-linecap="round" />
<polygon points="1238.9,1135.95 1242.4,1129.95 1245.9,1135.95 1242.4,1141.95" fill="#fff" stroke="#2a2a2a" stroke-width="1.15" stroke-linejoin="round" stroke-linecap="round" />
<polygon points="1245.5,1135.95 1249,1129.95 1252.5,1135.95 1249,1141.95" fill="#fff" stroke="#2a2a2a" stroke-width="1.15" stroke-linejoin="round" stroke-linecap="round" />
<polygon points="1252.1,1133.25 1261.4,1124.65 1262.6,1124.95 1262.6,1146.95 1261.4,1147.25 1252.1,1138.65" fill="#fff" stroke="#2a2a2a" stroke-width="1.15" stroke-linejoin="round" stroke-linecap="round" />
<path d="M1261.1,1125.45 Q1257.2,1135.95 1261.1,1146.45" fill="none" stroke="#888" stroke-width="0.6" stroke-linejoin="round" stroke-linecap="round" />
<ellipse cx="1262.4" cy="1135.95" rx="1.3" ry="11.2" fill="#fff" stroke="#2a2a2a" stroke-width="0.9"/>
</g>
<circle cx="1220.4" cy="1136.25" r="46.3" fill="none" stroke="#2e2e2e" stroke-width="1.5" />
<circle cx="1132.5" cy="1136.25" r="46.4" fill="#fff" stroke="none" stroke-width="0" />
<g clip-path="url(#cp1132a)">
<line x1="1098.7" y1="1089.85" x2="1098.7" y2="1182.65" stroke="#2e2e2e" stroke-width="1.9" />
<line x1="1108" y1="1089.85" x2="1108" y2="1182.65" stroke="#8c8c8c" stroke-width="1.2" />
<line x1="1116.2" y1="1089.85" x2="1116.2" y2="1182.65" stroke="#b0b0b0" stroke-width="1.2" />
<line x1="1124.3" y1="1089.85" x2="1124.3" y2="1182.65" stroke="#8c8c8c" stroke-width="1.2" />
<line x1="1132.1" y1="1089.85" x2="1132.1" y2="1182.65" stroke="#2e2e2e" stroke-width="1.9" />
<line x1="1152.9" y1="1089.85" x2="1152.9" y2="1182.65" stroke="#2e2e2e" stroke-width="1.9" />
<line x1="1112.1" y1="1136.65" x2="1120.3" y2="1136.65" stroke="#888" stroke-width="0.8" />
<clipPath id="cp1132bit"><rect x="1141.8" y="1129.65" width="39.1" height="13"/></clipPath>
<path d="M1135.5,1136.25 L1141.8,1129.65 L1180.9,1129.65 L1180.9,1142.65 L1141.8,1142.65 Q1140.3,1139.75 1135.5,1136.25 Z" fill="#fff" stroke="#2e2e2e" stroke-width="1.3" stroke-linejoin="round" stroke-linecap="round" />
<g clip-path="url(#cp1132bit)">
<polygon points="1142.4,1129.15 1150.6,1129.15 1158.8,1143.15 1150.6,1143.15" fill="#1e1e1e" stroke="none" stroke-width="0" stroke-linejoin="round" stroke-linecap="round" />
<polygon points="1159.1,1129.15 1167.3,1129.15 1175.5,1143.15 1167.3,1143.15" fill="#1e1e1e" stroke="none" stroke-width="0" stroke-linejoin="round" stroke-linecap="round" />
<polygon points="1175.8,1129.15 1184,1129.15 1192.2,1143.15 1184,1143.15" fill="#1e1e1e" stroke="none" stroke-width="0" stroke-linejoin="round" stroke-linecap="round" />
<polygon points="1192.5,1129.15 1200.7,1129.15 1208.9,1143.15 1200.7,1143.15" fill="#1e1e1e" stroke="none" stroke-width="0" stroke-linejoin="round" stroke-linecap="round" />
</g>
<line x1="1141.8" y1="1129.65" x2="1180.9" y2="1129.65" stroke="#2e2e2e" stroke-width="1.3" />
<line x1="1141.8" y1="1142.65" x2="1180.9" y2="1142.65" stroke="#2e2e2e" stroke-width="1.3" />
</g>
<circle cx="1132.5" cy="1136.25" r="46.4" fill="none" stroke="#2e2e2e" stroke-width="1.5" />
<g transform="translate(792.2 1184.3) rotate(0) scale(1)">
<path d="M-8.3,0 L8.3,0 Q9.2,1 8,2.3 L2.4,8.4 L-2.4,8.4 L-8,2.3 Q-9.2,1 -8.3,0 Z" fill="#fff" stroke="#222" stroke-width="1.3" stroke-linejoin="round" stroke-linecap="round" />
<path d="M-6.3,2 Q0,4.6 6.3,2" fill="none" stroke="#888" stroke-width="0.59" stroke-linejoin="round" stroke-linecap="round" />
<path d="M-5,3.2 Q0,5.4 5,3.2" fill="none" stroke="#999" stroke-width="0.59" stroke-linejoin="round" stroke-linecap="round" />
<path d="M-2.4,8.4 Q-5.6,10.6 -2.4,12.8 Q-5.6,15 -2.4,17.2 Q-5.6,19.4 -2.4,21.6 Q-5.6,23.8 -2.4,26 L-2.5,33 L0,36.5 L2.5,33 L2.4,26 Q5.6,23.8 2.4,21.6 Q5.6,19.4 2.4,17.2 Q5.6,15 2.4,12.8 Q5.6,10.6 2.4,8.4 Z" fill="#fff" stroke="#222" stroke-width="1.3" stroke-linejoin="round" stroke-linecap="round" />
<path d="M-2.6,13 L2.6,10.6" fill="none" stroke="#222" stroke-width="1.04" stroke-linejoin="round" stroke-linecap="round" />
<path d="M-2.6,8.6 L2.6,10.8" fill="none" stroke="#222" stroke-width="0.91" stroke-linejoin="round" stroke-linecap="round" />
<path d="M-2.6,17.4 L2.6,15" fill="none" stroke="#222" stroke-width="1.04" stroke-linejoin="round" stroke-linecap="round" />
<path d="M-2.6,13 L2.6,15.2" fill="none" stroke="#222" stroke-width="0.91" stroke-linejoin="round" stroke-linecap="round" />
<path d="M-2.6,21.8 L2.6,19.4" fill="none" stroke="#222" stroke-width="1.04" stroke-linejoin="round" stroke-linecap="round" />
<path d="M-2.6,17.4 L2.6,19.6" fill="none" stroke="#222" stroke-width="0.91" stroke-linejoin="round" stroke-linecap="round" />
<path d="M-2.6,26.2 L2.6,23.8" fill="none" stroke="#222" stroke-width="1.04" stroke-linejoin="round" stroke-linecap="round" />
<path d="M-2.6,21.8 L2.6,24" fill="none" stroke="#222" stroke-width="0.91" stroke-linejoin="round" stroke-linecap="round" />
<path d="M-2.5,26.4 Q0,28 2.5,26.4" fill="none" stroke="#222" stroke-width="0.91" stroke-linejoin="round" stroke-linecap="round" />
</g>
<rect x="40" y="640" width="1200" height="1.2" fill="#ececec"/>
<rect x="640.2" y="640" width="3.4" height="600.5" fill="#e7e7e7"/>
<polygon points="42.1,523.4 60.5,510.9 71,510.9 71,587.9 61.6,587.9 61.6,519.9 42.1,532.4" fill="#cbcbcb" stroke="none" stroke-width="0" stroke-linejoin="round" stroke-linecap="round" />
<clipPath id="d2"><rect x="684.8" y="505" width="48.9" height="82.9"/></clipPath>
<g clip-path="url(#d2)"><path d="M689.3,531.9 C689.3,521.3 697.2,514.1 708.8,514.1 C720.5,514.1 728.3,521.5 728.3,531.3 C728.3,540.5 722.5,547 714.5,555.3 L686.6,584.0 L740,584.0" fill="none" stroke="#cbcbcb" stroke-width="8.5" stroke-linejoin="miter" stroke-miterlimit="10"/></g>
<path d="M49.5,1170.1 C50.5,1160 58.5,1154.5 69.8,1154.5 C81.5,1154.5 88.4,1161.5 88.4,1171.25 C88.4,1181.5 81,1188.6 70,1188.6 L62.4,1188.6 M70,1188.6 C82.5,1188.6 91.5,1196 91.5,1207.2 C91.5,1218 82.5,1225.3 69.8,1225.3 C57.5,1225.3 49,1219 48,1209.5" fill="none" stroke="#cbcbcb" stroke-width="8.3"/>
<path fill-rule="evenodd" fill="#cbcbcb" d="M716.5,1150.9 L727.8,1150.9 L727.8,1204.5 L738,1204.5 L738,1211.9 L727.8,1211.9 L727.8,1228.3 L719.2,1228.3 L719.2,1211.9 L682.5,1211.9 L682.5,1204.5 Z M719.2,1162.3 L719.2,1204.5 L692.3,1204.5 Z"/>
<text x="175" y="565" font-size="23.3" fill="#222" text-anchor="start" font-weight="normal" textLength="143" lengthAdjust="spacingAndGlyphs" >Instalar base</text>
<text x="176" y="585" font-size="14.1" fill="#444" text-anchor="start" font-weight="normal" textLength="113" lengthAdjust="spacingAndGlyphs" >Perfil de alumínio</text>
<text x="176" y="599.5" font-size="14.1" fill="#444" text-anchor="start" font-weight="normal" textLength="139" lengthAdjust="spacingAndGlyphs" >ou caibro de madeira</text>
<text x="442" y="566" font-size="23.3" fill="#222" text-anchor="start" font-weight="normal" textLength="62.5" lengthAdjust="spacingAndGlyphs" >Medir</text>
<text x="441.5" y="584.5" font-size="14.1" fill="#444" text-anchor="start" font-weight="normal" textLength="140.5" lengthAdjust="spacingAndGlyphs" >altura do piso ao teto</text>
<text x="835.5" y="565" font-size="23.3" fill="#222" text-anchor="start" font-weight="normal" textLength="127" lengthAdjust="spacingAndGlyphs" >Fixar painel</text>
<text x="835.5" y="583.75" font-size="14.1" fill="#333" text-anchor="start" font-weight="normal" textLength="225.5" lengthAdjust="spacingAndGlyphs" >Cortar, encaixar, furar e parafusar</text>
<text x="1058.75" y="556.25" font-size="14.3" fill="#333" text-anchor="start" font-weight="normal" textLength="37.5" lengthAdjust="spacingAndGlyphs" >Broca</text>
<text x="1058.75" y="573.75" font-size="14.3" fill="#333" text-anchor="start" font-weight="normal" textLength="28.75" lengthAdjust="spacingAndGlyphs" >1/8”</text>
<text x="1140" y="556.25" font-size="14.3" fill="#333" text-anchor="start" font-weight="normal" textLength="60" lengthAdjust="spacingAndGlyphs" >Parafuso</text>
<text x="1143" y="573.75" font-size="14.3" fill="#333" text-anchor="start" font-weight="normal" textLength="53.25" lengthAdjust="spacingAndGlyphs" >madeira</text>
<text x="1080.3" y="138.1" font-size="14.3" fill="#333" text-anchor="start" font-weight="normal" textLength="104.5" lengthAdjust="spacingAndGlyphs" >Adaptar painéis</text>
<text x="1080.3" y="155.2" font-size="14.3" fill="#333" text-anchor="start" font-weight="normal" textLength="75.5" lengthAdjust="spacingAndGlyphs" >à altura da</text>
<text x="1162.5" y="155.2" font-size="14.3" fill="#333" text-anchor="start" font-weight="normal" textLength="43.5" lengthAdjust="spacingAndGlyphs" >parede</text>
<text x="1080.3" y="172.3" font-size="14.3" fill="#333" text-anchor="start" font-weight="normal" textLength="136" lengthAdjust="spacingAndGlyphs" >(cortar ou adicionar)</text>
<text x="1110.3" y="267.5" font-size="14.3" fill="#333" text-anchor="start" font-weight="normal" textLength="76" lengthAdjust="spacingAndGlyphs" >Parafusar o</text>
<text x="1081.6" y="284.75" font-size="14.3" fill="#222" text-anchor="start" font-weight="bold" textLength="57.4" lengthAdjust="spacingAndGlyphs" >primeiro</text>
<text x="1144" y="284.75" font-size="14.3" fill="#333" text-anchor="start" font-weight="normal" textLength="67.6" lengthAdjust="spacingAndGlyphs" >painel dos</text>
<text x="1081.6" y="302.2" font-size="14.3" fill="#222" text-anchor="start" font-weight="bold" textLength="70.9" lengthAdjust="spacingAndGlyphs" >dois lados</text>
<rect x="1081.6" y="305.7" width="70.9" height="1.5" fill="#222"/>
<text x="195.2" y="1206.7" font-size="23.3" fill="#222" text-anchor="start" font-weight="normal" textLength="92.6" lengthAdjust="spacingAndGlyphs" >Encaixar</text>
<text x="465.4" y="1028.4" font-size="14.3" fill="#333" text-anchor="start" font-weight="normal" textLength="119.6" lengthAdjust="spacingAndGlyphs" >Encaixe um painel</text>
<text x="465.4" y="1045.5" font-size="14.3" fill="#333" text-anchor="start" font-weight="normal" textLength="109" lengthAdjust="spacingAndGlyphs" >solto num painel</text>
<text x="465.4" y="1062.3" font-size="14.3" fill="#333" text-anchor="start" font-weight="normal" textLength="45" lengthAdjust="spacingAndGlyphs" >fixado.</text>
<text x="418.6" y="1229.3" font-size="14.3" fill="#333" text-anchor="middle" font-weight="normal" textLength="32.4" lengthAdjust="spacingAndGlyphs" >Lado</text>
<text x="418.7" y="1246.1" font-size="14.3" fill="#333" text-anchor="middle" font-weight="normal" textLength="75" lengthAdjust="spacingAndGlyphs" >parafusado</text>
<text x="558.6" y="1229.3" font-size="14.3" fill="#333" text-anchor="middle" font-weight="normal" textLength="32.4" lengthAdjust="spacingAndGlyphs" >Lado</text>
<text x="558.75" y="1246.1" font-size="14.3" fill="#333" text-anchor="middle" font-weight="normal" textLength="68.5" lengthAdjust="spacingAndGlyphs" >encaixado</text>
<text x="834.7" y="1205.5" font-size="23.3" fill="#222" text-anchor="start" font-weight="normal" textLength="106" lengthAdjust="spacingAndGlyphs" >Parafusar</text>
<text x="834.7" y="1223.5" font-size="14.1" fill="#333" text-anchor="start" font-weight="normal" textLength="246" lengthAdjust="spacingAndGlyphs" >Primeiro faça o furo, depois parafuse</text>
<text x="1130.6" y="906.1" font-size="14.3" fill="#333" text-anchor="start" font-weight="normal" textLength="126.7" lengthAdjust="spacingAndGlyphs" >Depois de encaixar</text>
<text x="1130.6" y="923.15" font-size="14.3" fill="#333" text-anchor="start" font-weight="normal" textLength="88.7" lengthAdjust="spacingAndGlyphs" >o painel, faça</text>
<text x="1130.6" y="940.2" font-size="14.3" fill="#333" text-anchor="start" font-weight="normal" textLength="86.3" lengthAdjust="spacingAndGlyphs" >novamente o</text>
<text x="1130.6" y="957.25" font-size="14.3" fill="#333" text-anchor="start" font-weight="normal" textLength="92.4" lengthAdjust="spacingAndGlyphs" >passo 2 (furar</text>
<text x="1130.6" y="974.3" font-size="14.3" fill="#333" text-anchor="start" font-weight="normal" textLength="133.5" lengthAdjust="spacingAndGlyphs" >primeiro e parafusar</text>
<text x="1130.6" y="991.35" font-size="14.3" fill="#333" text-anchor="start" font-weight="normal" textLength="49" lengthAdjust="spacingAndGlyphs" >depois)</text>
<text x="1130.6" y="1026.1" font-size="14.3" fill="#333" text-anchor="start" font-weight="normal" textLength="125" lengthAdjust="spacingAndGlyphs" >Repita o processor</text>
<text x="1130.6" y="1042.9" font-size="14.3" fill="#333" text-anchor="start" font-weight="normal" textLength="115.5" lengthAdjust="spacingAndGlyphs" >até onde desejar.</text>
<text x="1132.5" y="1208.75" font-size="14.3" fill="#333" text-anchor="middle" font-weight="normal" textLength="38.25" lengthAdjust="spacingAndGlyphs" >Broca</text>
<text x="1132.5" y="1226.25" font-size="14.3" fill="#333" text-anchor="middle" font-weight="normal" textLength="28.75" lengthAdjust="spacingAndGlyphs" >1/8”</text>
<text x="1220" y="1208.75" font-size="14.3" fill="#333" text-anchor="middle" font-weight="normal" textLength="58.25" lengthAdjust="spacingAndGlyphs" >Parafuso</text>
<text x="1219.6" y="1226.25" font-size="14.3" fill="#333" text-anchor="middle" font-weight="normal" textLength="53.25" lengthAdjust="spacingAndGlyphs" >madeira</text>
</svg>
</body>
</html>
